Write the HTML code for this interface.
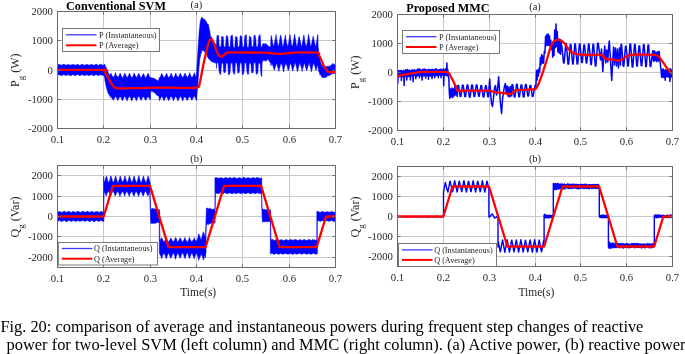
<!DOCTYPE html><html><head><meta charset="utf-8"><style>html,body{margin:0;padding:0;background:#fff;width:685px;height:354px;overflow:hidden}svg{display:block;filter:blur(0.45px)}</style></head><body><svg width="685" height="354" viewBox="0 0 685 354" style="font-family:Liberation Serif,serif">
<rect width="685" height="354" fill="#fff"/>
<path d="M103.50 11.5V128.5M150.50 11.5V128.5M196.50 11.5V128.5M242.50 11.5V128.5M289.50 11.5V128.5M57.5 99.50H335.5M57.5 70.50H335.5M57.5 40.50H335.5" stroke="#c8c8c8" stroke-width="1" fill="none"/>
<clipPath id="cTL"><rect x="57.5" y="11.5" width="278.00" height="117.00"/></clipPath>
<g clip-path="url(#cTL)">
<polygon points="57.4,64.9 57.7,65 58,64.9 58.3,64.4 58.6,64.4 58.9,64.3 59.2,64.5 59.5,64.4 59.8,64.7 60.1,64.3 60.4,65.1 60.7,65 61,65.3 61.3,65.4 61.6,65.1 61.9,65.1 62.2,65 62.5,64.6 62.8,64.5 63.1,64.6 63.4,64.2 63.7,64.1 64,64.5 64.3,64.4 64.6,64.2 64.9,64.6 65.2,64.8 65.5,64.9 65.8,65 66.1,65.3 66.4,65.3 66.7,64.9 67,64.6 67.3,64.7 67.6,64.6 67.9,64.4 68.2,64.5 68.5,64.6 68.8,64.4 69.1,64.4 69.4,64.7 69.7,64.9 70,65.2 70.3,64.9 70.6,65.3 70.9,65 71.2,64.7 71.5,64.9 71.8,64.8 72.1,64.4 72.4,64.7 72.7,64.6 73,64.5 73.3,64.5 73.6,64.7 73.9,64.3 74.2,64.9 74.5,65 74.8,64.8 75.1,65.4 75.4,65.2 75.7,65.3 76,64.8 76.3,64.7 76.6,64.7 76.9,64.3 77.2,64.5 77.5,64.4 77.8,64.5 78.1,64.4 78.4,64.8 78.7,64.8 79,64.8 79.3,65.1 79.6,65.5 79.9,65.7 80.2,64.9 80.5,65.2 80.8,64.9 81,64.6 81.3,64.3 81.6,64.7 81.9,64.2 82.2,64.5 82.5,64.7 82.8,64.2 83.1,64.6 83.4,64.5 83.7,65 84,65.4 84.3,65.7 84.6,64.9 84.9,65 85.2,65 85.5,65 85.8,64.7 86.1,64.3 86.4,64.5 86.7,64.4 87,64.4 87.3,64.3 87.6,64.6 87.9,64.8 88.2,64.8 88.5,65 88.8,65 89.1,65.3 89.4,65.4 89.7,64.9 90,64.5 90.3,64.9 90.6,64.6 90.9,64.9 91.2,64.4 91.5,64.3 91.8,64.2 92.1,64.8 92.4,65.1 92.7,64.6 93,64.8 93.3,65.3 93.6,65.2 93.9,65.2 94.2,65 94.5,64.9 94.8,64.9 95.1,64.6 95.4,64.7 95.7,64.3 96,64.5 96.3,64 96.6,64.2 96.9,64.7 97.2,64.6 97.5,65 97.8,65.1 98.1,65.5 98.4,65.5 98.7,65.4 99,64.9 99.3,64.7 99.6,64.5 99.9,64.4 100.2,64.2 100.5,64.3 100.8,64.4 101.1,64.5 101.4,64.5 101.7,64.3 102,64.8 102.3,65 102.6,65.4 102.9,65.5 103.2,65.1 103.5,64.9 103.8,65.3 104.1,64.9 104.4,64.9 104.4,75.6 104.1,75.3 103.8,75.2 103.5,75.8 103.2,75.5 102.9,75.6 102.6,75.2 102.3,75 102,75.3 101.7,75.1 101.4,75.1 101.1,74.5 100.8,75.3 100.5,74.7 100.2,74.6 99.9,75 99.6,75.1 99.3,75.2 99,75.1 98.7,75.4 98.4,75.8 98.1,75.2 97.8,75.5 97.5,75.2 97.2,75.3 96.9,75 96.6,75 96.3,74.6 96,74.6 95.7,75 95.4,74.8 95.1,74.9 94.8,75.3 94.5,75.4 94.2,75.5 93.9,75.7 93.6,75.5 93.3,75.6 93,75.4 92.7,75.3 92.4,75.3 92.1,75 91.8,74.7 91.5,74.2 91.2,74.5 90.9,74.9 90.6,74.8 90.3,75.2 90,75.5 89.7,75.2 89.4,75.5 89.1,75.6 88.8,75.2 88.5,75.7 88.2,75.2 87.9,75.3 87.6,75.3 87.3,75 87,74.6 86.7,74.7 86.4,75.1 86.1,75.1 85.8,75 85.5,75.4 85.2,75.5 84.9,75.6 84.6,75.6 84.3,75.4 84,75.8 83.7,75.6 83.4,75.2 83.1,75.1 82.8,74.9 82.5,74.5 82.2,74.4 81.9,74.7 81.6,74.9 81.3,74.9 81,75.3 80.8,75.3 80.5,75 80.2,75.4 79.9,75.7 79.6,75.5 79.3,75.8 79,75.5 78.7,75 78.4,74.7 78.1,74.6 77.8,74.5 77.5,74.3 77.2,74.8 76.9,74.5 76.6,75.1 76.3,75.2 76,75.3 75.7,75.6 75.4,75.4 75.1,75.7 74.8,75.8 74.5,75.5 74.2,75 73.9,75 73.6,75.1 73.3,74.6 73,74.7 72.7,74.6 72.4,74.9 72.1,75.1 71.8,75.4 71.5,75.4 71.2,75.5 70.9,75.7 70.6,75.6 70.3,75.2 70,75.5 69.7,75.4 69.4,74.9 69.1,75.4 68.8,74.5 68.5,74.7 68.2,74.3 67.9,74.8 67.6,75.2 67.3,74.9 67,75 66.7,75.3 66.4,75.5 66.1,75.4 65.8,75.5 65.5,75.3 65.2,75.2 64.9,75.4 64.6,74.8 64.3,75.1 64,74.8 63.7,74.6 63.4,74.6 63.1,74.8 62.8,74.9 62.5,75.2 62.2,75.4 61.9,75.5 61.6,75.6 61.3,75.6 61,75.4 60.7,75.4 60.4,75.2 60.1,75.2 59.8,74.7 59.5,74.9 59.2,74.7 58.9,74.7 58.6,74.9 58.3,75 58,75.2 57.7,75.1 57.4,75.8" fill="#00f" stroke="#00f" stroke-width="0.5" stroke-linejoin="round"/>
<polygon points="104.2,63.8 104.5,64.2 104.8,64.9 105.1,65.4 105.4,66.1 105.7,66.5 106,67 106.3,68 106.6,69.4 106.9,69.7 107.2,69.2 107.5,70.7 107.8,71.2 108.1,72.4 108.4,72.8 108.7,74.1 109,74.5 109.3,75.1 109.6,75.6 109.9,76.2 110.2,74.1 110.5,74.3 110.8,73.3 111.1,73.1 111.4,74.4 111.7,74.8 112,75.5 112.3,75.9 112.6,76.5 112.9,77 113.2,76.7 113.5,77.6 113.8,77.1 114.1,76.3 114.4,76.1 114.7,75.2 115,74.4 115.3,72.8 115.6,72.7 115.9,73.8 116.2,74.9 116.5,75.8 116.8,76.3 117.1,76.1 117.4,76.3 117.7,77.6 118,77.5 118.3,77.4 118.6,76.6 118.9,76.1 119.2,75 119.5,74.8 119.8,73.8 120.1,73.2 120.4,73.5 120.7,74.1 121,75 121.3,75.6 121.6,76.5 121.9,77 122.2,77.1 122.5,77.4 122.8,77.9 123.1,76.9 123.4,76.7 123.7,75.9 124,74.9 124.3,74.1 124.6,73.5 124.9,73.1 125.2,74 125.5,74.2 125.8,75.2 126.1,76 126.4,77.1 126.7,76.4 127,77.6 127.3,77.4 127.6,77.3 127.9,76.5 128.2,76.2 128.5,75.9 128.8,74.8 129.1,74 129.4,73.2 129.7,73.3 130,74.5 130.3,75 130.6,75.5 130.9,76.4 131.2,76.9 131.5,77.6 131.8,77.6 132.1,77.2 132.4,77.4 132.7,76.7 133,76.1 133.3,75.2 133.6,74.3 133.9,73.4 134.2,73 134.5,74.3 134.8,74.8 135.1,75 135.4,76.1 135.7,76.3 136,77.3 136.3,77.2 136.6,77.2 136.9,77.2 137.2,76.7 137.5,75.6 137.8,75.6 138.1,75.3 138.4,73.4 138.7,73.6 139,73.4 139.3,74.3 139.6,75.1 139.9,75.5 140.2,76.9 140.5,77.2 140.8,77.3 141.1,77.6 141.4,77 141.7,76.8 142,76.7 142.3,75.2 142.6,74.9 142.9,74.3 143.2,73.8 143.5,73.7 143.8,74 144.1,74.7 144.4,75.8 144.7,76.2 145,76.8 145.3,77.7 145.6,78.2 145.9,77.7 146.2,77.1 146.5,76.9 146.8,75.5 147.1,75.4 147.4,74.3 147.7,74.6 148,73.2 148.3,73.8 148.6,74.5 148.9,74.6 149.2,76.2 149.5,77.1 149.8,77 150.1,77.8 150.4,78 150.6,77.2 150.9,77.8 151.2,78 151.5,77.8 151.8,77.8 152.1,78.2 152.4,77.6 152.7,78.2 153,78.6 153.3,78 153.6,78.8 153.9,78.5 154.2,78.1 154.5,78.8 154.8,78.7 155.1,79.2 155.4,78.9 155.7,79.7 156,79.4 156.3,79.9 156.6,79.8 156.9,80 157.2,80.6 157.5,80.5 157.8,80.5 158.1,80.4 158.4,81.3 158.7,80.3 159,78.7 159.3,77.7 159.6,77.4 159.9,77.1 160.2,76.7 160.5,76.4 160.8,75.8 161.1,74.7 161.4,74.4 161.7,73.6 162,73.5 162.3,74.6 162.6,75 162.9,75.7 163.2,76.6 163.5,77 163.8,77.7 164.1,77.4 164.4,78 164.7,76.9 165,76.5 165.3,75.5 165.6,75.4 165.9,74.9 166.2,74 166.5,73.3 166.8,73.4 167.1,74.5 167.4,75.3 167.7,75.8 168,77 168.3,77.3 168.6,77.6 168.9,77.8 169.2,77 169.5,76.5 169.8,75.9 170.1,75.7 170.4,74.9 170.7,74.2 171,73.5 171.3,73.1 171.6,74.1 171.9,75.1 172.2,75.4 172.5,76.2 172.8,77.3 173.1,77.7 173.4,78 173.7,77.4 174,76.9 174.3,76.7 174.6,75.7 174.9,75.2 175.2,74.7 175.5,73.4 175.8,72.9 176.1,73.9 176.4,74.9 176.7,75.6 177,76.1 177.3,76.8 177.6,76.7 177.9,77.3 178.2,77.6 178.5,76.9 178.8,76.2 179.1,75.7 179.4,75.1 179.7,74.6 180,73.5 180.3,73.1 180.6,74 180.9,74.3 181.2,75.4 181.5,75.8 181.8,76 182.1,76.9 182.4,77.1 182.7,77.8 183,77 183.3,77.2 183.6,76.5 183.9,75 184.2,75.2 184.5,74.6 184.8,73.1 185.1,73.4 185.4,73.4 185.7,74.8 186,74.9 186.3,76.2 186.6,76.1 186.9,76.4 187.2,77.6 187.5,78.1 187.8,76.9 188.1,76.8 188.4,75.9 188.7,75.1 189,74.7 189.3,74.2 189.6,72.5 189.9,73.7 190.2,74.4 190.5,74.6 190.8,76.2 191.1,77 191.4,76.6 191.7,77.8 192,77.5 192.3,77.1 192.6,77.2 192.9,76.2 193.2,75.6 193.5,75.2 193.8,74.4 194.1,73.5 194.4,72.7 194.7,73.5 195,75 195.3,75.1 195.6,76.1 195.9,76.3 196.2,77.1 196.5,77.1 196.8,77.8 196.8,100.2 196.5,100.6 196.2,99.6 195.9,99.4 195.6,98.8 195.3,98.2 195,97.1 194.7,96.7 194.4,96.5 194.1,96.3 193.8,96.3 193.5,97 193.2,98.1 192.9,98.5 192.6,98.8 192.3,99.2 192,100.4 191.7,100.2 191.4,99.2 191.1,98.9 190.8,97.7 190.5,97.9 190.2,96.8 189.9,97.1 189.6,96.2 189.3,96.9 189,97.3 188.7,97.6 188.4,98.4 188.1,98.5 187.8,99.6 187.5,100.2 187.2,100.6 186.9,100.5 186.6,99.2 186.3,98.7 186,98.3 185.7,98.1 185.4,96.5 185.1,97.2 184.8,97 184.5,96.9 184.2,97.3 183.9,97.4 183.6,98.3 183.3,99.7 183,100 182.7,100.9 182.4,100.6 182.1,99.4 181.8,98.5 181.5,97.8 181.2,97.6 180.9,96.7 180.6,96.7 180.3,96.1 180,97.1 179.7,97.4 179.4,97.9 179.1,98.5 178.8,99 178.5,99.7 178.2,100.2 177.9,101.1 177.6,99.7 177.3,99.1 177,98.4 176.7,98 176.4,97.1 176.1,97.2 175.8,96.5 175.5,96.7 175.2,97.1 174.9,97.8 174.6,98.5 174.3,98.8 174,99.4 173.7,99.6 173.4,101.1 173.1,99.8 172.8,99.3 172.5,98.4 172.2,97.5 171.9,97.5 171.6,96.5 171.3,96.6 171,96.9 170.7,96.5 170.4,97.3 170.1,97.9 169.8,98.5 169.5,99.5 169.2,100 168.9,100.5 168.6,100.4 168.3,100.2 168,99.3 167.7,98.4 167.4,98.5 167.1,97.4 166.8,97 166.5,96.7 166.2,97 165.9,97.1 165.6,97.2 165.3,97.9 165,98.8 164.7,99.4 164.4,99.9 164.1,100.9 163.8,100.1 163.5,99.5 163.2,98.5 162.9,98.1 162.6,98.1 162.3,96.8 162,95.8 161.7,96.3 161.4,97.2 161.1,97.3 160.8,98 160.5,98.1 160.2,99.2 159.9,100 159.6,100.7 159.3,100.2 159,96.4 158.7,96.2 158.4,96 158.1,96.1 157.8,95.1 157.5,95.7 157.2,95.1 156.9,95.2 156.6,95.1 156.3,95 156,93.6 155.7,93.6 155.4,93 155.1,93.5 154.8,92.9 154.5,92.5 154.2,92.4 153.9,92.7 153.6,91.8 153.3,91.5 153,91.4 152.7,91.9 152.4,91.7 152.1,90.8 151.8,90.7 151.5,91.5 151.2,90 150.9,90.6 150.6,93.5 150.4,99.7 150.1,99.9 149.8,99.2 149.5,98.3 149.2,97.9 148.9,97.4 148.6,97.4 148.3,96.7 148,96.7 147.7,96.5 147.4,96.8 147.1,98.1 146.8,97.9 146.5,99.2 146.2,99.6 145.9,99.8 145.6,100.4 145.3,99.8 145,99.2 144.7,98.9 144.4,97.7 144.1,97.1 143.8,97.4 143.5,96 143.2,96.7 142.9,96.9 142.6,97.3 142.3,98 142,98.6 141.7,99.5 141.4,99.8 141.1,100.4 140.8,100 140.5,99.6 140.2,99 139.9,97.9 139.6,97.4 139.3,97 139,96.4 138.7,96.8 138.4,96.3 138.1,97 137.8,97.6 137.5,98.2 137.2,98.9 136.9,99.1 136.6,100.6 136.3,101.1 136,99.7 135.7,98.9 135.4,98.5 135.1,98.3 134.8,97 134.5,97.3 134.2,96.9 133.9,96.7 133.6,97.3 133.3,97.7 133,98.1 132.7,98.2 132.4,99.2 132.1,100.4 131.8,101.2 131.5,99.9 131.2,100 130.9,98.5 130.6,97.9 130.3,97.9 130,96.9 129.7,96.5 129.4,96.3 129.1,96.8 128.8,97.3 128.5,97.6 128.2,98.1 127.9,99.2 127.6,99.3 127.3,100.4 127,101 126.7,99.6 126.4,99.1 126.1,99.1 125.8,97.8 125.5,97.2 125.2,97.1 124.9,96.8 124.6,96.6 124.3,97.1 124,97.6 123.7,98.2 123.4,99.1 123.1,99.3 122.8,99.9 122.5,100.8 122.2,99.8 121.9,99.2 121.6,99.1 121.3,98.4 121,97.1 120.7,96.9 120.4,97.2 120.1,96.2 119.8,97.1 119.5,97.2 119.2,97.7 118.9,97.8 118.6,99.1 118.3,99.5 118,100.3 117.7,100.4 117.4,99.9 117.1,98.6 116.8,98.6 116.5,97.4 116.2,97.5 115.9,96.5 115.6,96.3 115.3,97.1 115,97.4 114.7,97.1 114.4,98.5 114.1,98.4 113.8,99.5 113.5,100.4 113.2,100 112.9,99.2 112.6,99.2 112.3,98.9 112,98.1 111.7,98.2 111.4,96.9 111.1,96.3 110.8,96 110.5,96.3 110.2,97.4 109.9,95.7 109.6,95.1 109.3,95.5 109,94.5 108.7,94 108.4,93.4 108.1,93.1 107.8,92.4 107.5,91.1 107.2,90.3 106.9,89 106.6,88.2 106.3,87.2 106,85.9 105.7,84.3 105.4,82.2 105.1,81.4 104.8,79.3 104.5,77.6 104.2,75.7" fill="#00f" stroke="#00f" stroke-width="0.5" stroke-linejoin="round"/>
<polygon points="196.4,75.3 196.7,71.2 197,65.6 197.3,60.1 197.6,55.9 197.9,50.5 198.2,45.4 198.5,41.7 198.8,37.5 199.1,32.6 199.4,29.1 199.7,26.9 200,23.6 200.3,21.6 200.6,19.9 200.9,19.5 201.2,18.6 201.5,17.5 201.8,17.1 202.1,17.8 202.4,17.7 202.7,17.7 203,18.9 203.3,19 203.6,18.7 203.9,19.8 204.2,19.2 204.5,19.8 204.8,19.2 205.1,20.4 205.4,20.4 205.7,20.7 206,20.6 206.3,22.9 206.6,22.1 206.9,22.9 207.2,24 207.5,23.9 207.8,24.6 208.1,23.9 208.4,25 208.7,25.8 209,27.8 209.3,29.1 209.6,29.9 209.9,31.5 210.2,33.7 210.5,36.4 210.8,36.8 211.1,37.4 211.4,36.8 211.7,37.1 212,38.7 212.3,39.4 212.6,39.9 212.9,41 213.2,41.3 213.5,41.4 213.8,42 214.1,42.9 214.4,43.2 214.7,43.6 215,45.1 215.3,44.2 215.6,44.7 215.9,44.5 216.2,45.2 216.5,45.9 216.8,46.3 216.8,63.1 216.5,62.4 216.2,64.2 215.9,62.8 215.6,63.2 215.3,62.8 215,62.6 214.7,62.4 214.4,62.5 214.1,61.9 213.8,61.2 213.5,62.9 213.2,61.1 212.9,61.8 212.6,62 212.3,62.1 212,62 211.7,61.6 211.4,61.9 211.1,61 210.8,61 210.5,59.4 210.2,60.1 209.9,60.1 209.6,59.3 209.3,59.4 209,59.1 208.7,59 208.4,58.3 208.1,58.1 207.8,57.5 207.5,56.8 207.2,56.1 206.9,54.5 206.6,54.8 206.3,54 206,52.9 205.7,52 205.4,51.7 205.1,51.7 204.8,52.3 204.5,51.9 204.2,51.4 203.9,49.9 203.6,50.1 203.3,50.8 203,50.2 202.7,50.9 202.4,50.2 202.1,49.3 201.8,50.2 201.5,52.9 201.2,52.6 200.9,54 200.6,54.7 200.3,56.8 200,58.3 199.7,59.2 199.4,64 199.1,66.6 198.8,70.2 198.5,75 198.2,79.9 197.9,85.2 197.6,86.9 197.3,90.3 197,93.2 196.7,95.3 196.4,96.9" fill="#00f" stroke="#00f" stroke-width="0.5" stroke-linejoin="round"/>
<polygon points="216.5,43.6 216.8,38.5 217.1,35.5 217.4,36 217.7,35.5 218,35.4 218.3,35.6 218.6,35.3 218.9,40.7 219.2,45.6 219.5,47.1 219.8,46.9 220.1,47.1 220.4,46.9 220.7,46.6 221,45.9 221.3,41.5 221.6,36.8 221.9,36.2 222.2,36.8 222.5,36.7 222.8,36.9 223.1,36.5 223.4,38.9 223.7,43.4 224,47.1 224.3,46.9 224.6,46.9 224.9,47.3 225.2,47.1 225.5,46.7 225.8,42.9 226.1,38.1 226.4,36.1 226.7,35.5 227,35.7 227.3,36 227.6,36 227.9,37 228.2,41.8 228.5,46.4 228.8,47.1 229.1,47.3 229.4,47 229.7,46.6 230,47.4 230.3,45.1 230.6,40.2 230.9,35.8 231.2,35.5 231.5,35.7 231.8,35.7 232.1,35.5 232.4,34.9 232.7,37.8 233,43.9 233.3,47.1 233.6,47.4 233.9,47.2 234.2,47.7 234.5,47.4 234.8,47.4 235.1,42.8 235.4,37.5 235.7,36.6 236,36.7 236.3,36.6 236.6,37.1 236.9,37 237.2,37.9 237.5,42.3 237.8,46.9 238.1,47.1 238.4,46.9 238.7,47.2 239,46.4 239.3,46.9 239.6,43.7 239.9,39.3 240.2,35.9 240.5,35.6 240.8,35.5 241.1,35.7 241.4,36.5 241.7,36.2 242,41.2 242.3,44.8 242.6,46.9 242.9,47 243.2,46.7 243.5,47.1 243.8,47.2 244.1,45.9 244.4,41.4 244.7,36.7 245,35.4 245.3,35.8 245.6,35.2 245.9,35.4 246.2,34.5 246.5,37.8 246.8,42.5 247.1,47.6 247.4,47.2 247.7,47.1 248,47.2 248.3,47.3 248.6,47.4 248.9,44.1 249.2,38.9 249.5,36 249.8,35.9 250.1,36.9 250.4,37.3 250.7,37.1 251,37 251.3,41 251.6,45.6 251.9,46.9 252.2,47.1 252.5,46.5 252.8,47.2 253.1,46.6 253.4,45.4 253.7,40.4 254,35.4 254.3,35 254.6,35 254.9,35.5 255.2,35.8 255.5,37.4 255.8,39.8 256.1,44 256.4,46.8 256.7,46.7 257,46.3 257.3,46.9 257.6,47.1 257.9,46.5 258.2,42.8 258.5,37.9 258.8,36.1 259.1,35.9 259.4,35.5 259.7,35 260,34.4 260.3,36.2 260.6,41.2 260.9,46.7 261.2,47.2 261.5,46.9 261.8,46.6 262.1,46.7 262.4,45.3 262.7,44.5 263,43.7 263.3,44.2 263.6,43.8 263.9,43.2 264.2,44 264.5,44.4 264.8,44.2 265.1,43.5 265.4,43.6 265.7,43.7 266,43.8 266.3,43.9 266.6,44 266.9,44.9 267.2,45.2 267.6,45 267.9,45.7 268.2,46.1 268.5,46.2 268.8,46.5 269.1,46.7 269.4,46.7 269.7,46.6 270,46.4 270.3,47.1 270.6,47.4 270.9,38.3 271.2,35.6 271.5,35.7 271.8,38.1 272.1,39.9 272.4,41.3 272.7,42.9 273,43.9 273.3,45.7 273.6,46.5 273.9,46.1 274.2,44.6 274.5,42.9 274.8,40.9 275.1,39.7 275.4,38.5 275.7,36.6 276,34.5 276.3,36.6 276.6,38.5 276.9,40.5 277.2,41.9 277.5,43.8 277.8,45.1 278.1,46.1 278.4,46.3 278.7,45.6 279,43.8 279.3,42.9 279.6,40.4 279.9,38.6 280.2,36.7 280.5,35.6 280.8,34.9 281.1,36.9 281.4,38.4 281.7,40.4 282,42.2 282.3,44.4 282.6,45.2 282.9,46.8 283.2,46.7 283.5,44.9 283.8,43.6 284.1,41.8 284.4,39.5 284.7,38.4 285,36.9 285.3,34.9 285.6,36.5 285.9,39 286.2,40.6 286.5,42.3 286.8,43.7 287.1,44.8 287.4,46.4 287.7,46.2 288,45.7 288.3,43.9 288.6,42.7 288.9,41.1 289.2,39 289.5,37.1 289.8,34.8 290.1,34.7 290.4,37.4 290.7,39.6 291,41.2 291.3,43.4 291.6,44.7 291.9,46 292.2,46.6 292.5,45.6 292.8,45 293.1,43.3 293.4,41.4 293.7,39.5 294,37.9 294.3,36 294.6,34.1 294.9,35.3 295.2,37.9 295.5,39 295.8,41.3 296.1,43.2 296.4,45.1 296.7,45.9 297,47.1 297.3,45.8 297.6,44.5 297.9,43.1 298.2,40.7 298.5,38.3 298.8,37.6 299.1,36.4 299.4,36.9 299.7,38.2 300,39.8 300.3,41.3 300.6,42.1 300.9,43.9 301.2,45.4 301.5,47.4 301.8,45.8 302.1,45.1 302.4,43.1 302.7,41 303,40.4 303.3,37.4 303.6,35.9 303.9,34.8 304.2,36.4 304.5,38.5 304.8,41.2 305.1,42.6 305.4,43.7 305.7,45 306,46.3 306.3,47 306.6,45.3 306.9,44.1 307.2,42.8 307.5,41 307.8,39.4 308.1,37.4 308.4,34.3 308.7,35.2 309,36.6 309.3,38.4 309.6,40.2 309.9,42 310.2,44 310.5,45.8 310.8,46.6 311.1,45.9 311.4,44.6 311.7,43.5 312,41.6 312.3,40 312.6,38.9 312.9,36.9 313.2,36.2 313.5,37.4 313.8,39.2 314.1,40.4 314.4,41.9 314.7,43.2 315,44.6 315.3,46.3 315.6,46.5 315.9,45.6 316.2,44.1 316.5,41.8 316.8,40.5 317.1,38.2 317.4,36.5 317.7,34.5 318,35.3 318,64.4 317.7,64.7 317.4,65.7 317.1,66.4 316.8,68.3 316.5,69.3 316.2,70.6 315.9,70.2 315.6,69 315.3,68 315,66.3 314.7,66.1 314.4,64.7 314.1,64 313.8,63.3 313.5,63.3 313.2,64.7 312.9,65.7 312.6,66.2 312.3,68.3 312,69.1 311.7,70.2 311.4,72 311.1,70.3 310.8,69.2 310.5,67.9 310.2,66.1 309.9,66.2 309.6,64.5 309.3,63.4 309,63 308.7,63.9 308.4,64.9 308.1,65.8 307.8,67.4 307.5,68.1 307.2,69.6 306.9,70.5 306.6,70.4 306.3,69.8 306,68.5 305.7,67.9 305.4,66.3 305.1,65.7 304.8,64.3 304.5,63.2 304.2,63.6 303.9,64.3 303.6,65.7 303.3,66.9 303,67.8 302.7,68.5 302.4,69.8 302.1,71.5 301.8,69.4 301.5,67.7 301.2,67.1 300.9,66.6 300.6,64.9 300.3,64.6 300,63.2 299.7,62.7 299.4,63.8 299.1,65.4 298.8,66 298.5,67.4 298.2,68.6 297.9,70.5 297.6,71.5 297.3,71.5 297,69.9 296.7,68.2 296.4,66.7 296.1,65.7 295.8,64.6 295.5,63.7 295.2,62.9 294.9,63.1 294.6,64.3 294.3,65.2 294,67 293.7,67.3 293.4,68.2 293.1,69.9 292.8,71.3 292.5,70.3 292.2,69.6 291.9,67.7 291.6,66.6 291.3,65.6 291,64.5 290.7,63.5 290.4,63.4 290.1,63.9 289.8,65.2 289.5,65.7 289.2,67.3 288.9,68.9 288.6,69.3 288.3,70.6 288,69.9 287.7,69.1 287.4,67.5 287.1,66.2 286.8,65.7 286.5,64.5 286.2,64.8 285.9,62.8 285.6,63.7 285.3,64.5 285,65.6 284.7,66.9 284.4,67.6 284.1,69.2 283.8,71.3 283.5,72 283.2,70.2 282.9,69.2 282.6,67.4 282.3,66.1 282,65 281.7,64.4 281.4,63.2 281.1,63.5 280.8,64.1 280.5,64.8 280.2,66.1 279.9,67.4 279.6,67.8 279.3,68.8 279,71.4 278.7,70.9 278.4,70.2 278.1,69 277.8,67.5 277.5,66.4 277.2,65.2 276.9,64 276.6,63.4 276.3,63.7 276,64.5 275.7,66.1 275.4,66.9 275.1,67.8 274.8,68.5 274.5,70.2 274.2,70 273.9,69.3 273.6,68.3 273.3,67.1 273,66.2 272.7,65.4 272.4,64.9 272.1,63.2 271.8,62.9 271.5,63.7 271.2,64.9 270.9,65.8 270.6,63.3 270.3,63 270,62 269.7,61.1 269.4,61.4 269.1,61 268.8,59.7 268.5,60.3 268.2,58.9 267.9,59.3 267.6,59 267.2,59.9 266.9,59.7 266.6,60.5 266.3,60.8 266,61.4 265.7,60.8 265.4,60.8 265.1,60.8 264.8,60.9 264.5,60.6 264.2,60.6 263.9,60.9 263.6,60.5 263.3,60.1 263,60.5 262.7,60.6 262.4,62 262.1,63.2 261.8,75.8 261.5,76.7 261.2,75.6 260.9,74.2 260.6,69.8 260.3,64.9 260,62.9 259.7,63.1 259.4,63.1 259.1,62.9 258.8,63.5 258.5,63 258.2,67.6 257.9,72.1 257.6,73.3 257.3,73.7 257,74.1 256.7,74.2 256.4,74.4 256.1,73.1 255.8,67.8 255.5,63.1 255.2,62.7 254.9,62.8 254.6,62.7 254.3,62.5 254,63 253.7,65.1 253.4,69.6 253.1,73 252.8,72.7 252.5,72.5 252.2,72.3 251.9,72.8 251.6,73.1 251.3,69.1 251,64.6 250.7,63.3 250.4,63.1 250.1,63.3 249.8,63.2 249.5,63.8 249.2,63.8 248.9,68.2 248.6,73.5 248.3,74.2 248,74.5 247.7,73.9 247.4,73.8 247.1,72.8 246.8,70.2 246.5,66.3 246.2,62.8 245.9,62.9 245.6,62.9 245.3,63 245,63.2 244.7,63 244.4,66.8 244.1,70.7 243.8,73.4 243.5,73.9 243.2,74.2 242.9,74.6 242.6,75 242.3,74.2 242,69.2 241.7,64 241.4,62.9 241.1,62.9 240.8,63.3 240.5,63.1 240.2,62.6 239.9,64.2 239.6,68.4 239.3,72.4 239,72.7 238.7,72.4 238.4,72.8 238.1,72.7 237.8,73.2 237.5,70.6 237.2,66.2 236.9,63.1 236.6,63.2 236.3,62.7 236,62.7 235.7,62.7 235.4,63.4 235.1,67.8 234.8,72.5 234.5,74.2 234.2,74.5 233.9,73.4 233.6,73.5 233.3,72.6 233,71.8 232.7,67 232.4,63.5 232.1,63.3 231.8,63.3 231.5,63.2 231.2,62.7 230.9,63.1 230.6,65.5 230.3,69.5 230,73.3 229.7,73.4 229.4,73.9 229.1,74.8 228.8,75 228.5,74.8 228.2,70.9 227.9,65.2 227.6,63.2 227.3,63 227,63.1 226.7,63.4 226.4,62.7 226.1,63.4 225.8,67.9 225.5,71.8 225.2,72.3 224.9,72.5 224.6,72 224.3,73 224,72.2 223.7,71.9 223.4,67.9 223.1,62.9 222.8,63.1 222.5,62.7 222.2,63.5 221.9,63.2 221.6,63.4 221.3,66.8 221,71.3 220.7,74.8 220.4,73.8 220.1,73.7 219.8,73.6 219.5,73.2 219.2,72.4 218.9,68.9 218.6,64.6 218.3,62.9 218,62.6 217.7,62.8 217.4,62.4 217.1,62.6 216.8,64.1 216.5,68.5" fill="#00f" stroke="#00f" stroke-width="0.5" stroke-linejoin="round"/>
<polygon points="317.7,44.4 318,47.8 318.3,48.7 318.6,52 318.9,54.1 319.2,56 319.5,56.8 319.8,57.5 320.1,59.1 320.4,61.8 320.7,62.6 321,63.4 321.3,64.8 321.6,64.5 321.9,64.9 322.2,65.1 322.5,66.8 322.8,67.6 323.1,66.5 323.4,67.1 323.7,67.4 324,68 324.3,65.8 324.6,67 324.9,67.3 325.2,66.2 325.5,67.2 325.8,67.1 326.1,67.3 326.4,66.6 326.6,67 326.9,66.4 327.2,66.9 327.5,66.6 327.8,66.3 328.1,65.7 328.4,67.2 328.7,66.8 329,66.6 329.3,65.8 329.6,65.9 329.9,66.8 330.2,66.2 330.5,65.2 330.8,65.4 331.1,65.3 331.4,64.9 331.7,64.3 332,65.2 332.3,64.7 332.6,64.1 332.9,63.2 333.2,63.8 333.5,64.2 333.8,64.7 334.1,64.3 334.4,65.1 334.7,64.8 335,64.5 335.3,63.6 335.3,72.8 335,73.3 334.7,73 334.4,73.6 334.1,73.6 333.8,73.1 333.5,73.7 333.2,73.2 332.9,72.7 332.6,73.6 332.3,73.9 332,73.9 331.7,73.3 331.4,74.2 331.1,74.7 330.8,74.3 330.5,74.9 330.2,75 329.9,74.9 329.6,75.7 329.3,75.3 329,74.8 328.7,75.8 328.4,75.9 328.1,75.2 327.8,76.1 327.5,75.9 327.2,75.7 326.9,76.5 326.6,76.3 326.4,75.9 326.1,77.7 325.8,77.1 325.5,76.3 325.2,77.4 324.9,77.9 324.6,77.5 324.3,77.8 324,77.3 323.7,77.7 323.4,77.3 323.1,77.2 322.8,77.8 322.5,77.4 322.2,77.3 321.9,77.3 321.6,76.5 321.3,76.5 321,75.2 320.7,75.2 320.4,74.6 320.1,74.3 319.8,74.7 319.5,72.4 319.2,72.3 318.9,72.2 318.6,70.3 318.3,68.6 318,66.6 317.7,65.4" fill="#00f" stroke="#00f" stroke-width="0.5" stroke-linejoin="round"/>
<polyline points="57.4,69.9 64.2,69.9 74.3,69.9 85.5,69.8 95.6,69.8 102.6,69.9 105.7,70 106.4,70 105.7,70.1 104.7,70.4 104.5,70.9 105,71.7 105.5,72.7 106.1,73.9 106.8,75.2 107.5,76.5 108.3,78 109.2,79.8 110.2,81.5 111.1,83.2 112,84.5 112.7,85.5 113.4,86.3 114.1,86.9 114.8,87.4 115.5,87.8 115.9,88.1 116,88.3 116.3,88.4 117.5,88.4 120,88.4 124.7,88.4 131.1,88.2 138.2,88.1 144.9,87.9 150,87.8 153.1,87.7 155,87.7 156.2,87.6 157.7,87.6 160,87.6 163.4,87.6 167.4,87.7 171.7,87.7 176,87.8 180,87.8 183.8,87.8 187.7,87.9 191.4,88 194.6,87.9 197,87.5 198.5,87 199.1,86.4 199.3,85.6 199.4,84.4 199.8,82.7 200.4,80.2 201,77.1 201.6,73.7 202.3,70.2 202.9,67 203.5,64 204.2,61 204.8,58.1 205.5,55.4 206,53 206.5,50.9 206.9,49 207.3,47.3 207.6,45.8 208,44.5 208.3,43.4 208.7,42.4 209,41.7 209.2,41 209.5,40.5 209.7,40.1 210,39.7 210.2,39.5 210.4,39.4 210.6,39.3 210.9,39.2 211.1,39.2 211.4,39.3 211.7,39.5 212,39.8 212.3,40.3 212.7,40.8 213.1,41.5 213.5,42.4 214,43.5 214.5,45 215.1,46.7 215.7,48.6 216.3,50.5 217,52 217.7,53.3 218.6,54.5 219.4,55.6 220.2,56.4 221,56.8 221.7,56.8 222.4,56.4 223.1,55.7 223.8,55.1 224.5,54.5 225.1,54.1 225.5,53.6 226,53.1 226.8,52.8 228,52.5 229.7,52.4 231.8,52.3 234.2,52.3 237,52.4 240,52.4 243.7,52.4 248.1,52.5 252.6,52.5 256.8,52.6 260,52.6 262.1,52.6 263.4,52.6 264.2,52.6 265,52.6 266,52.7 267.3,52.8 268.7,53 270.2,53.2 271.6,53.4 273,53.5 274.4,53.6 275.8,53.7 277.2,53.8 278.6,53.9 280,53.9 281.4,53.8 282.8,53.7 284.1,53.6 285.5,53.4 287,53.3 288.3,53.2 289.5,53 290.8,52.8 292.5,52.7 295,52.6 298.7,52.5 303.5,52.4 308.6,52.3 313.2,52.4 316.5,52.6 318.3,53 319,53.4 319.1,54.1 319.1,54.9 319.5,56 320.2,57.5 321,59.3 321.8,61.3 322.7,63.3 323.5,65 324.3,66.6 325.1,68.1 326,69.5 326.9,70.7 328,71.6 329.4,72.1 331.1,72.2 332.8,72.2 334.3,72 335.3,72" fill="none" stroke="#f00" stroke-width="2.3" stroke-linejoin="round"/>
</g>
<path d="M57.50 128.5v-3.3M57.50 11.5v3.3M103.50 128.5v-3.3M103.50 11.5v3.3M150.50 128.5v-3.3M150.50 11.5v3.3M196.50 128.5v-3.3M196.50 11.5v3.3M242.50 128.5v-3.3M242.50 11.5v3.3M289.50 128.5v-3.3M289.50 11.5v3.3M335.50 128.5v-3.3M335.50 11.5v3.3M57.5 128.50h3.3M335.5 128.50h-3.3M57.5 99.50h3.3M335.5 99.50h-3.3M57.5 70.50h3.3M335.5 70.50h-3.3M57.5 40.50h3.3M335.5 40.50h-3.3M57.5 11.50h3.3M335.5 11.50h-3.3" stroke="#6a6a6a" stroke-width="0.9" fill="none"/>
<rect x="57.5" y="11.5" width="278.00" height="117.00" fill="none" stroke="#6a6a6a" stroke-width="1"/>
<g font-size="10.7" fill="#262626"><text x="57.5" y="142.6" text-anchor="middle">0.1</text><text x="103.5" y="142.6" text-anchor="middle">0.2</text><text x="150.5" y="142.6" text-anchor="middle">0.3</text><text x="196.5" y="142.6" text-anchor="middle">0.4</text><text x="242.5" y="142.6" text-anchor="middle">0.5</text><text x="289.5" y="142.6" text-anchor="middle">0.6</text><text x="335.5" y="142.6" text-anchor="middle">0.7</text><text x="52.9" y="131.9" text-anchor="end">-2000</text><text x="52.9" y="102.9" text-anchor="end">-1000</text><text x="52.9" y="73.9" text-anchor="end">0</text><text x="52.9" y="43.9" text-anchor="end">1000</text><text x="52.9" y="14.9" text-anchor="end">2000</text></g>
<path d="M443.50 14.5V130.5M489.50 14.5V130.5M535.50 14.5V130.5M580.50 14.5V130.5M626.50 14.5V130.5M397.5 101.50H672.5M397.5 72.50H672.5M397.5 43.50H672.5" stroke="#c8c8c8" stroke-width="1" fill="none"/>
<clipPath id="cTR"><rect x="397.5" y="14.5" width="275.00" height="116.00"/></clipPath>
<g clip-path="url(#cTR)">
<polyline points="397.4,71.3 397.8,83.4 398.3,70.5 398.7,76.4 399.2,70.7 399.6,76.6 400.1,70.9 400.5,75.8 401,70.4 401.4,80.5 401.9,70.8 402.3,76.3 402.8,71.8 403.2,76.7 403.7,70.5 404.1,85.5 404.6,71.1 405,76.3 405.5,69.7 405.9,76.2 406.4,70.5 406.8,80 407.3,69.6 407.7,76.7 408.2,70.3 408.6,76.4 409.1,70.2 409.5,76 410,70.8 410.4,80 410.9,70.7 411.3,75.8 411.8,70 412.2,75.7 412.7,70 413.1,81.8 413.6,70.8 414,75.2 414.5,69.4 414.9,75.7 415.4,70.8 415.8,78.7 416.3,70.6 416.7,76.2 417.2,69.7 417.6,75.7 418.1,68.8 418.5,75.3 419,70.2 419.4,77.8 419.9,69 420.3,74.9 420.8,70 421.2,76 421.7,71 422.1,80.1 422.6,69.2 423,74.4 423.5,69.9 423.9,75.9 424.4,69.1 424.8,75.2 425.3,69.6 425.7,77.9 426.2,69.7 426.6,75.6 427.1,70.2 427.5,75.4 428,70.1 428.4,79.2 428.9,69.2 429.3,74.8 429.8,69.9 430.2,76.1 430.7,69.7 431.1,75.7 431.6,69.5 432,78.6 432.5,69.3 432.9,75.5 433.4,69.8 433.8,75.4 434.3,70.2 434.7,77.6 435.2,69.3 435.6,75.5 436.1,68.8 436.5,75.6 437,70.8 437.4,75.3 437.9,69.7 438.3,77.6 438.8,69.9 439.2,74.9 439.7,69.8 440.1,74.9 440.6,69.3 441,77.7 441.5,69.5 441.9,74.4 442.4,70.5 442.8,75.3 443.3,68.8 443.7,85.8 444.2,69.6 444.6,75.4 445.1,70 445.5,75 446,68.4 446.4,75.4 446.9,62.9 447.3,75.9 447.8,69.5 448.2,75.4 448.8,78 449.3,92 449.8,98.5 450.5,89 451.2,97 452,88 452.7,97.5 453.4,89 454.1,96 454.9,84.5 455.6,95 456.4,88 457.2,96.5 457.8,85.4 458.6,85.4 460.1,96.3 460.9,96.3 462.4,85.2 463.2,85.2 464.8,96.6 465.5,96.6 467.1,84.9 467.8,84.9 469.4,97.1 470.1,97.1 471.7,84.9 472.4,84.9 474,96.5 474.7,96.5 476.3,85.1 477,85.1 478.6,96.2 479.3,96.2 480.9,85.5 481.6,85.5 483.2,96.9 483.9,96.9 485.5,85.8 486.2,85.8 487.8,96.7 488.5,96.7 489,88 489.7,79 490.5,92 491.5,104 492.5,106.5 493.5,98 494.5,88 495.5,85.5 496.5,95 497.5,90 498.6,76.8 499.5,90 500.5,104 501.6,113.5 502.5,100 503.5,92 504.5,86 505.4,83.6 506.3,94 507.2,86 508.1,96.5 509,87 509.9,97 510.8,86.5 511.7,96 512,84.7 512.8,84.7 514.3,97 515,97 516.5,84.3 517.2,84.3 518.8,96.7 519.5,96.7 521,85.1 521.8,85.1 523.3,96.9 524,96.9 525.5,84.4 526.2,84.4 527.8,96 528.5,96 530,85.5 530.8,85.5 532.3,96.4 533,96.4 535.2,85.2 535.9,86.4 536.5,70.6 537.1,80 537.8,70.1 538.4,76.1 539.1,68.2 539.7,72.3 540.4,57.5 541,64.8 541.7,54.4 542.3,63.1 543,56.2 543.6,63.2 544.3,51.2 544.9,53.1 545.6,36.3 546.2,45.7 546.9,34.5 547.5,45 548.2,34 548.8,45.4 549.5,35.9 550.1,46 550.8,40.3 551.4,49.3 552.1,43.8 552.7,57.3 553.4,41.2 554,55.4 554.7,30 555.3,47.7 556,24 556.6,46.5 557.3,31.6 557.9,52 558.6,39 559.2,52.9 559.9,41.5 560.5,54.3 561.2,42.3 561.2,45.3 561.8,45.3 563.5,63 564.1,63 565.8,43.4 566.3,43.4 568,64.1 568.6,64.1 570.3,44.4 570.9,44.4 572.6,63.9 573.2,63.9 574.8,44 575.4,44 577.1,63.9 577.7,63.9 579.4,43.9 580,43.9 581.7,62.5 582.3,62.5 583.9,44.9 584.5,44.9 586.2,63 586.8,63 588.5,44.1 589.1,44.1 590.8,64.4 591.4,64.4 593,44.3 593.6,44.3 595.3,66 595.9,66 597.6,43.2 598.2,43.2 600.5,60 601.5,49 602.8,71.6 603.8,55 604.8,46 605.8,63 606.8,50 607.8,62 608.6,47 609.3,40.9 610.2,55 611.7,80.5 612.7,62 613.6,47 614.5,65 615.5,48 616.5,66 617.5,49 618.5,68 619.5,48 620.5,65 621,44.6 621.6,44.6 623.2,66.3 623.8,66.3 625.5,46.3 626.1,46.3 627.8,66 628.3,66 630,44.1 630.6,44.1 632.2,67.1 632.8,67.1 634.5,44.5 635.1,44.5 636.8,66.1 637.3,66.1 639,45.9 639.6,45.9 641.2,65.7 641.8,65.7 643.5,44.8 644.1,44.8 645.8,66.6 646.3,66.6 648,45 648.6,45 650.2,66.4 650.8,66.4 652.8,50.8 653.6,61.4 654.4,50.8 655.2,60.7 656,52.2 656.8,61.7 657.6,51.8 658.4,61 659.2,51.3 660,61.4 661,69.2 661.6,77.3 662.2,69.6 662.8,76.9 663.4,69.1 664,77.6 664.6,70.5 665.2,80.2 665.8,69.5 666.4,76.7 667,70.7 667.6,76.8 668.2,70.2 668.8,77.1 669.4,69.3 670,81.5 670.6,68.8 671.2,77.1 671.8,69.9 672.4,76 673,70.2" fill="none" stroke="#00f" stroke-width="1.5" stroke-linejoin="round"/>
<polyline points="397.4,76 398.4,75.8 399.8,75.5 401.4,75.2 403.2,74.8 405,74.5 406.9,74.2 408.9,73.8 411,73.4 413.1,73.1 415,72.8 416.5,72.6 417.7,72.3 419,72.1 420.6,72 423,71.9 426.6,71.8 431.1,71.8 435.9,71.8 440.4,71.9 443.7,72 445.7,72.1 447,72.2 447.6,72.3 448.1,72.6 448.7,73 449.3,73.6 449.8,74.4 450.2,75.3 450.6,76.2 451,77 451.4,77.7 451.8,78.3 452.1,78.9 452.5,79.6 453,80.5 453.6,81.7 454.2,83 454.8,84.5 455.5,85.8 456,87 456.3,87.9 456.3,88.8 456.4,89.5 456.8,90.1 457.8,90.5 459.5,90.8 461.6,90.8 464.1,90.8 466.9,90.7 470,90.7 473.7,90.7 478.1,90.6 482.6,90.6 486.6,90.6 489.5,90.6 491,90.7 491.6,90.9 491.6,91.1 491.6,91.3 492,91.5 492.8,91.7 493.8,91.9 494.8,92.1 495.9,92.3 497,92.5 498.1,92.6 499.3,92.7 500.6,92.8 501.8,92.9 503,93 504.2,93.2 505.5,93.4 506.8,93.7 508,93.9 509,94 509.8,94 510.4,94 510.9,94 511.4,93.8 512,93.5 512.5,93 512.9,92.4 513.3,91.7 514,91 515,90.5 516.6,90.2 518.6,90 520.8,90 523,89.9 525,89.8 526.9,89.7 528.8,89.6 530.6,89.5 532.2,89.4 533.5,89.3 534.4,89.3 534.9,89.3 535.2,89.3 535.5,89.1 536,88.5 536.6,87.7 537.2,86.7 537.9,85.4 538.6,83.7 539.5,81.5 540.6,78.6 541.8,75.2 543.1,71.4 544.3,67.6 545.5,64 546.6,60.5 547.6,57 548.6,53.6 549.5,50.5 550.3,48 551,46.1 551.6,44.7 552.2,43.7 552.8,42.8 553.5,42 554.3,41.3 555.2,40.7 556,40.2 556.9,39.9 557.7,39.7 558.4,39.6 559.1,39.7 559.7,39.8 560.3,40.1 561,40.5 561.7,41 562.5,41.6 563.3,42.3 564.2,43.1 565,44 565.9,45.2 566.8,46.5 567.7,48 568.7,49.3 569.6,50.4 570.5,51.2 571.3,51.9 572.2,52.4 573.1,52.9 574,53.3 574.9,53.7 575.9,53.9 576.9,54.2 578.1,54.3 579.5,54.5 581.3,54.7 583.3,54.8 585.5,54.9 587.8,55 590,55 592.2,54.9 594.6,54.8 596.9,54.6 599,54.6 600.8,54.8 602.1,55.3 603.1,56.1 603.9,57 604.7,57.9 605.7,58.5 606.8,58.9 608.1,59.1 609.3,59.3 610.6,59.4 612,59.6 613.5,59.9 615.1,60.2 616.7,60.4 618.2,60.6 619.6,60.5 620.8,60.1 621.9,59.6 622.9,58.9 623.9,58.1 625,57.5 626,56.9 626.9,56.3 628,55.7 629.4,55.2 631.5,54.8 634.6,54.6 638.6,54.5 642.8,54.6 646.8,54.7 650,54.8 652.3,54.9 654,55 655.4,55.2 656.6,55.5 657.7,56 658.8,56.7 659.6,57.6 660.4,58.7 661.1,59.8 662,61 663,62.3 664,63.7 665,65.2 666,66.7 667,68 668,69.3 669,70.5 670,71.7 670.8,72.7 671.5,73.4 672,73.8 672.2,73.9 672.4,73.8 672.5,73.7 672.6,73.6" fill="none" stroke="#f00" stroke-width="2.3" stroke-linejoin="round"/>
</g>
<path d="M397.50 130.5v-3.3M397.50 14.5v3.3M443.50 130.5v-3.3M443.50 14.5v3.3M489.50 130.5v-3.3M489.50 14.5v3.3M535.50 130.5v-3.3M535.50 14.5v3.3M580.50 130.5v-3.3M580.50 14.5v3.3M626.50 130.5v-3.3M626.50 14.5v3.3M672.50 130.5v-3.3M672.50 14.5v3.3M397.5 130.50h3.3M672.5 130.50h-3.3M397.5 101.50h3.3M672.5 101.50h-3.3M397.5 72.50h3.3M672.5 72.50h-3.3M397.5 43.50h3.3M672.5 43.50h-3.3M397.5 14.50h3.3M672.5 14.50h-3.3" stroke="#6a6a6a" stroke-width="0.9" fill="none"/>
<rect x="397.5" y="14.5" width="275.00" height="116.00" fill="none" stroke="#6a6a6a" stroke-width="1"/>
<g font-size="10.7" fill="#262626"><text x="397.5" y="144.6" text-anchor="middle">0.1</text><text x="443.5" y="144.6" text-anchor="middle">0.2</text><text x="489.5" y="144.6" text-anchor="middle">0.3</text><text x="535.5" y="144.6" text-anchor="middle">0.4</text><text x="580.5" y="144.6" text-anchor="middle">0.5</text><text x="626.5" y="144.6" text-anchor="middle">0.6</text><text x="672.5" y="144.6" text-anchor="middle">0.7</text><text x="392.9" y="133.9" text-anchor="end">-2000</text><text x="392.9" y="104.9" text-anchor="end">-1000</text><text x="392.9" y="75.9" text-anchor="end">0</text><text x="392.9" y="46.9" text-anchor="end">1000</text><text x="392.9" y="17.9" text-anchor="end">2000</text></g>
<path d="M103.50 165.5V267.5M150.50 165.5V267.5M196.50 165.5V267.5M242.50 165.5V267.5M289.50 165.5V267.5M57.5 257.50H335.5M57.5 236.50H335.5M57.5 216.50H335.5M57.5 196.50H335.5M57.5 175.50H335.5" stroke="#c8c8c8" stroke-width="1" fill="none"/>
<clipPath id="cBL"><rect x="57.5" y="165.5" width="278.00" height="102.00"/></clipPath>
<g clip-path="url(#cBL)">
<polygon points="57.4,212.5 57.7,212.2 58,211.8 58.3,211.9 58.6,211.8 58.9,211.5 59.2,211.8 59.5,211.6 59.8,211.6 60.1,211.8 60.4,211.5 60.7,211.7 61,212.1 61.3,212.3 61.6,212.7 61.9,212.8 62.2,212.3 62.5,212.1 62.8,211.8 63.1,211.6 63.4,211.5 63.7,211.6 64,211.3 64.3,211.3 64.6,211.5 64.9,211.5 65.2,211.7 65.5,211.4 65.8,212.2 66.1,212.3 66.4,212.6 66.7,212.5 67,211.8 67.3,212.4 67.6,211.8 67.9,211.6 68.2,211.1 68.5,211.6 68.8,211.5 69.1,211.4 69.4,211.6 69.7,211.9 70,211.8 70.3,211.8 70.6,212.5 70.9,212.5 71.2,212.5 71.5,212.7 71.8,212.1 72.1,211.8 72.4,211.7 72.7,211.5 73,211.5 73.3,211.5 73.6,211.3 73.9,211.4 74.2,211.7 74.5,211.8 74.8,212.1 75.1,212.3 75.4,212.4 75.7,212.7 76,212.3 76.3,212.1 76.6,212.1 76.9,211.4 77.2,211.7 77.5,212.1 77.8,211.1 78.1,211.7 78.4,211.1 78.7,211.6 79,212 79.3,212.1 79.6,211.9 79.9,212 80.2,212.2 80.5,212.6 80.8,212.2 81.1,212 81.4,211.9 81.7,211.7 82,211.6 82.3,211.5 82.6,211.1 82.9,211.7 83.2,210.9 83.5,211.9 83.8,211.6 84.1,211.9 84.4,212.1 84.7,212.3 85,212.6 85.3,212.3 85.6,211.9 85.9,212.1 86.2,211.6 86.5,211.8 86.8,211.4 87.1,211.3 87.4,211.5 87.7,211.6 88,211.4 88.3,211.6 88.6,212.1 88.9,211.9 89.2,212.1 89.5,212.6 89.8,212.2 90.1,211.7 90.4,211.7 90.7,211.9 91,211.8 91.3,211.6 91.6,211.5 91.9,211.2 92.2,211.6 92.5,211.7 92.8,211.5 93.1,212 93.4,211.9 93.7,212.2 94,212.5 94.3,212.2 94.6,212.6 94.9,211.9 95.2,211.9 95.5,211.6 95.8,211.6 96.1,211.5 96.4,211.4 96.7,211.7 97,211.5 97.3,211.5 97.6,211.1 97.9,211.8 98.2,212 98.5,212.1 98.8,212.4 99.1,212.5 99.4,212.4 99.7,212.3 100,212 100.3,211.5 100.6,211.5 100.9,211.2 101.2,211.6 101.5,211.5 101.8,211.4 102.1,211.6 102.4,211.8 102.7,211.9 103,212.5 103.3,213.1 103.6,212.7 103.9,212.5 103.9,221.4 103.6,221.4 103.3,221.3 103,221.2 102.7,221 102.4,221.4 102.1,221.2 101.8,220.5 101.5,220.7 101.2,220.3 100.9,220.6 100.6,220.6 100.3,220.3 100,221.1 99.7,220.9 99.4,221.4 99.1,221.1 98.8,221.5 98.5,221.3 98.2,221.4 97.9,221.1 97.6,221.2 97.3,220.6 97,220.6 96.7,220.6 96.4,220.1 96.1,220.7 95.8,220.9 95.5,220.9 95.2,221.1 94.9,221.4 94.6,221.5 94.3,221.9 94,221.3 93.7,221.2 93.4,221.5 93.1,221.5 92.8,220.8 92.5,220.9 92.2,220.2 91.9,220.3 91.6,220.4 91.3,220.6 91,220.8 90.7,221.1 90.4,221.3 90.1,221.2 89.8,221.5 89.5,221.4 89.2,221.7 88.9,221.3 88.6,221.2 88.3,220.7 88,221 87.7,220.6 87.4,220.4 87.1,220.3 86.8,220.4 86.5,220.7 86.2,220.8 85.9,220.9 85.6,221.3 85.3,221.4 85,221.8 84.7,221.3 84.4,221.3 84.1,221 83.8,220.6 83.5,220.9 83.2,220.8 82.9,220.7 82.6,220.1 82.3,220.3 82,221 81.7,221 81.4,221 81.1,221.1 80.8,221.1 80.5,221.2 80.2,221.1 79.9,221.4 79.6,221.4 79.3,220.9 79,221 78.7,220.4 78.4,220.2 78.1,220.4 77.8,220.6 77.5,220.8 77.2,221 76.9,221 76.6,221.3 76.3,221.2 76,221.6 75.7,221.1 75.4,221.3 75.1,221.5 74.8,220.9 74.5,221.2 74.2,220.8 73.9,220.7 73.6,220 73.3,220.3 73,220.6 72.7,220.8 72.4,220.8 72.1,221.2 71.8,221.6 71.5,221.2 71.2,221.1 70.9,221.2 70.6,221.5 70.3,221.1 70,220.8 69.7,220.8 69.4,220.6 69.1,220.8 68.8,220.1 68.5,220.2 68.2,220.9 67.9,220.9 67.6,221 67.3,221.7 67,221.8 66.7,221.3 66.4,221.3 66.1,221.5 65.8,221.8 65.5,220.9 65.2,221 64.9,220.7 64.6,220.4 64.3,220.1 64,220.5 63.7,220.6 63.4,220.5 63.1,220.7 62.8,221.2 62.5,220.8 62.2,221.6 61.9,221.5 61.6,221.7 61.3,221.2 61,221 60.7,221.4 60.4,220.9 60.1,220.4 59.8,220.6 59.5,220.2 59.2,220.6 58.9,220.6 58.6,221 58.3,221 58,221.7 57.7,221.3 57.4,221.4" fill="#00f" stroke="#00f" stroke-width="0.5" stroke-linejoin="round"/>
<polygon points="103.5,176.5 103.8,176.5 104.1,182.3 104.4,181.5 104.7,181.4 105,180.2 105.3,179.7 105.6,178.4 105.9,177 106.2,176.3 106.5,176.5 106.8,177.3 107.1,178.1 107.4,179.5 107.7,180.7 108,181.3 108.3,182.6 108.6,182.6 108.9,182.2 109.2,181.7 109.5,180.5 109.8,179.8 110.1,178.6 110.4,177 110.7,176.1 111,175.9 111.3,176.7 111.6,178 111.9,178.6 112.2,179.9 112.5,181.2 112.8,181.7 113.1,182.1 113.4,182.9 113.7,181.9 114,181.1 114.3,180.7 114.6,178.9 114.9,178.5 115.2,176.9 115.5,175.8 115.8,176 116.1,177.4 116.4,178.6 116.7,179.6 117,180.6 117.3,181.7 117.6,182.5 117.9,182.7 118.2,182.4 118.5,181.5 118.8,180.5 119.1,180.1 119.4,178.9 119.7,178.1 120,176.1 120.3,176.4 120.6,176.4 120.9,177.9 121.2,179.3 121.5,179.6 121.8,180.7 122.1,181 122.4,181.8 122.7,181.8 123,182 123.3,181.3 123.6,180.3 123.9,179.8 124.2,178.8 124.5,177.3 124.8,176 125.1,176.1 125.4,177.2 125.7,178.8 126,179.6 126.3,180.3 126.6,181.2 126.8,182.1 127.1,182.3 127.4,182.3 127.7,181.6 128,181.3 128.3,180.3 128.6,178.6 128.9,177.9 129.2,177 129.5,175.4 129.8,177 130.1,178 130.4,179.1 130.7,179.9 131,180.9 131.3,181.8 131.6,181.8 131.9,182.2 132.2,181.7 132.5,181.8 132.8,180.6 133.1,179.6 133.4,178.5 133.7,177.2 134,176 134.3,176.3 134.6,177.1 134.9,178.9 135.2,179.5 135.5,180.4 135.8,181.1 136.1,181.9 136.4,182.4 136.7,182.7 137,182.4 137.3,180.6 137.6,180.1 137.9,179.3 138.2,177.7 138.5,176.6 138.8,175.5 139.1,175.9 139.4,178 139.7,178.9 140,179.9 140.3,180.8 140.6,181.6 140.9,182.9 141.2,182.5 141.5,182.3 141.8,181.2 142.1,180.6 142.4,179.5 142.7,178.5 143,177.2 143.3,176 143.6,176.1 143.9,177.4 144.2,178.4 144.5,179.2 144.8,180.4 145.1,180.4 145.4,182.2 145.7,182.4 146,182.4 146.3,182.1 146.6,180.9 146.9,180.4 147.2,179 147.5,178.2 147.8,176.8 148.1,175.8 148.4,177 148.7,177.5 149,178.6 149.3,179.7 149.6,180.8 149.9,182.3 150.2,182 150.2,191.2 149.9,191.7 149.6,191.8 149.3,192.5 149,193.3 148.7,194.5 148.4,194.2 148.1,196 147.8,195.9 147.5,195.6 147.2,194.4 146.9,193.7 146.6,193.1 146.3,192.1 146,191.8 145.7,191.1 145.4,191.3 145.1,192 144.8,191.9 144.5,192.9 144.2,193.8 143.9,194.2 143.6,195.3 143.3,195.7 143,196.1 142.7,194.9 142.4,195.2 142.1,193.6 141.8,192.4 141.5,192.4 141.2,191.8 140.9,191.1 140.6,191.7 140.3,192.2 140,192.5 139.7,193.6 139.4,193.7 139.1,194.8 138.8,195.4 138.5,196.8 138.2,195.4 137.9,194.4 137.6,193.7 137.3,193.3 137,193.2 136.7,191.7 136.4,191.6 136.1,191.6 135.8,191.7 135.5,191.8 135.2,193.1 134.9,193.5 134.6,195.2 134.3,194.9 134,196.4 133.7,195.6 133.4,194.9 133.1,194.8 132.8,193.9 132.5,192.5 132.2,192.1 131.9,191.8 131.6,191.1 131.3,191.4 131,191.9 130.7,193 130.4,193.1 130.1,194 129.8,194.2 129.5,195.6 129.2,196.5 128.9,195.8 128.6,194.7 128.3,193.8 128,193.2 127.7,192.9 127.4,191.8 127.1,191.7 126.8,190.4 126.6,191.9 126.3,192.3 126,191.8 125.7,193.5 125.4,193.7 125.1,194.4 124.8,196.2 124.5,196 124.2,194.7 123.9,193.5 123.6,193.3 123.3,193 123,192.1 122.7,192 122.4,191.5 122.1,191.5 121.8,191.8 121.5,193.2 121.2,193.6 120.9,193.8 120.6,194.6 120.3,195 120,196.9 119.7,195.9 119.4,194.7 119.1,193.8 118.8,193.6 118.5,192.3 118.2,191.7 117.9,191.6 117.6,191.3 117.3,192.2 117,191.8 116.7,193.1 116.4,193.6 116.1,194.1 115.8,194.7 115.5,195.2 115.2,196 114.9,195.2 114.6,194.2 114.3,193.4 114,192.8 113.7,192.5 113.4,191.4 113.1,191.1 112.8,191.4 112.5,191.6 112.2,192.5 111.9,192.4 111.6,194 111.3,194.8 111,195.4 110.7,196.4 110.4,195.9 110.1,194.4 109.8,193.9 109.5,193.2 109.2,192.5 108.9,192.5 108.6,191.4 108.3,190.7 108,191.8 107.7,192.1 107.4,192.5 107.1,193.1 106.8,194.4 106.5,195.3 106.2,195.6 105.9,196.1 105.6,194.6 105.3,194.1 105,193.3 104.7,192.9 104.4,192.1 104.1,191.2 103.8,216 103.5,216" fill="#00f" stroke="#00f" stroke-width="0.5" stroke-linejoin="round"/>
<polygon points="149.9,192 150.2,199.9 150.5,206.8 150.8,209.4 151.1,209.8 151.4,209.6 151.7,208.5 152,208.2 152.3,208.1 152.6,208.6 152.9,209.2 153.2,208.6 153.5,209.2 153.8,208.9 154.1,208.9 154.4,209.2 154.8,208.6 155.1,208.9 155.4,209.7 155.7,209.2 156,209.2 156.3,209.1 156.6,209.1 156.9,209.1 157.2,208.9 157.5,210.1 157.8,209.6 158.1,210.1 158.4,210.3 158.7,209.9 159,209.5 159.3,209.7 159.6,210 159.6,222.2 159.3,222.1 159,222.4 158.7,223 158.4,222.6 158.1,222.1 157.8,222.2 157.5,222 157.2,222.6 156.9,223.1 156.6,222.2 156.3,222.9 156,222.3 155.7,223 155.4,222.7 155.1,224.1 154.8,223.3 154.4,222.5 154.1,223.5 153.8,222.8 153.5,223.1 153.2,223.2 152.9,222.9 152.6,223.5 152.3,223.2 152,223.9 151.7,223 151.4,223.1 151.1,222.8 150.8,223.6 150.5,219.5 150.2,208.2 149.9,196.1" fill="#00f" stroke="#00f" stroke-width="0.5" stroke-linejoin="round"/>
<polygon points="159.3,212 159.6,212 159.9,241.4 160.2,240.8 160.5,239.3 160.8,239.7 161.1,238.2 161.4,237.8 161.7,238 162,237.9 162.3,238.6 162.6,239.5 162.9,240.1 163.2,241 163.5,241.4 163.8,241.8 164.1,241.7 164.4,241.4 164.7,240.6 165,240.4 165.3,239.7 165.6,238.7 165.9,238.8 166.2,237.1 166.5,238.3 166.8,238.6 167.1,239.6 167.4,240.3 167.7,241 168,241.7 168.3,241.5 168.6,242.9 168.9,241.8 169.2,240.9 169.5,240.2 169.8,240.7 170.1,239.8 170.4,238.6 170.7,238.1 171,238.1 171.3,238.5 171.6,239.1 171.9,239.9 172.2,240.7 172.5,241.1 172.8,241.2 173.1,242.2 173.4,241.3 173.7,241.2 174,241.2 174.3,240.3 174.6,239.7 174.9,239 175.2,238.5 175.5,237.4 175.8,237.5 176.1,238.9 176.4,238.6 176.7,239.6 177,241.3 177.3,241.7 177.6,241.6 177.9,242 178.2,241.6 178.5,241.4 178.8,240.3 179.1,239.7 179.4,239.1 179.7,238.6 180,237.9 180.3,237.7 180.6,238.8 180.9,238.9 181.2,239.9 181.5,240.3 181.8,240.8 182.1,242 182.4,241.9 182.8,241.5 183.1,241.4 183.4,240.5 183.7,240.4 184,239.8 184.3,239.2 184.6,237.8 184.9,237.4 185.2,238.8 185.5,238.8 185.8,240 186.1,240.7 186.4,240.4 186.7,241.7 187,242 187.3,242.2 187.6,242.1 187.9,241.2 188.2,240.5 188.5,240.1 188.8,239.1 189.1,238.7 189.4,237.2 189.7,238.4 190,238.4 190.3,239.5 190.6,240 190.9,240.6 191.2,241.2 191.5,241.6 191.8,241.5 192.1,241.6 192.4,241.7 192.7,240.5 193,239.9 193.3,240.2 193.6,239.2 193.9,238.6 194.2,237.5 194.5,238.3 194.8,239.2 195.1,239.8 195.4,240.3 195.7,240.4 196,241.2 196.3,241 196.6,241.6 196.9,240.2 197.2,239.4 197.5,238.6 197.8,237.5 198.1,236.6 198.4,235.1 198.7,233.7 199,234.4 199.3,234.7 199.6,235.8 199.9,236.6 200.2,237.6 200.5,238.7 200.8,239.7 201.1,239.5 201.4,239 201.7,237.7 202,237.1 202.3,235.2 202.6,234.3 202.9,233.2 203.2,231.8 203.5,231.9 203.8,232.9 204.1,233.5 204.4,234.6 204.7,235.8 205,236.4 205.3,236.9 205.6,237.6 205.9,238 205.9,253.9 205.6,253.7 205.3,254.8 205,255.7 204.7,255.9 204.4,256.6 204.1,258.3 203.8,259.1 203.5,259.9 203.2,259.7 202.9,258.5 202.6,257.8 202.3,256.4 202,255.8 201.7,255.3 201.4,254.6 201.1,254.4 200.8,254.8 200.5,256.2 200.2,256.5 199.9,257.2 199.6,257.8 199.3,258.6 199,259.8 198.7,260.3 198.4,259.3 198.1,257.7 197.8,256.7 197.5,256 197.2,254.9 196.9,254 196.6,253.4 196.3,253 196,253.7 195.7,254.6 195.4,255.3 195.1,255.9 194.8,257 194.5,257.5 194.2,258.8 193.9,258 193.6,257.6 193.3,256.3 193,255.8 192.7,254.9 192.4,253.7 192.1,253.1 191.8,252.7 191.5,253.5 191.2,254.2 190.9,254.9 190.6,255.6 190.3,256.3 190,257.4 189.7,258.4 189.4,258.4 189.1,257.4 188.8,257 188.5,255.9 188.2,254.8 187.9,253.8 187.6,253.4 187.3,253.3 187,253.2 186.7,253.6 186.4,254.3 186.1,255.5 185.8,256.2 185.5,256.9 185.2,258.2 184.9,258.5 184.6,258.3 184.3,257.1 184,256.1 183.7,254.9 183.4,254.5 183.1,254 182.8,253.1 182.4,252.6 182.1,253.5 181.8,254.1 181.5,254.7 181.2,255.5 180.9,256.4 180.6,257.5 180.3,258.3 180,258 179.7,257.2 179.4,256.7 179.1,255.8 178.8,254.8 178.5,254.1 178.2,254.3 177.9,253.1 177.6,253.2 177.3,253.9 177,254.5 176.7,255.7 176.4,255.9 176.1,257 175.8,258.4 175.5,259.3 175.2,258.7 174.9,257.2 174.6,256.1 174.3,255.5 174,254.1 173.7,253.7 173.4,253.3 173.1,252.8 172.8,254 172.5,254.6 172.2,254.9 171.9,255.9 171.6,256.6 171.3,257.8 171,258.2 170.7,258.1 170.4,257.7 170.1,257.1 169.8,255.9 169.5,255 169.2,254.5 168.9,253.6 168.6,253.1 168.3,253.4 168,253.7 167.7,255 167.4,255.5 167.1,256.5 166.8,257.1 166.5,258.3 166.2,258.8 165.9,257.9 165.6,257 165.3,256.4 165,255.3 164.7,254.5 164.4,254 164.1,253.3 163.8,252.7 163.5,253.9 163.2,254.2 162.9,254.9 162.6,255.5 162.3,257 162,257.7 161.7,258 161.4,258.6 161.1,256.7 160.8,256 160.5,255.2 160.2,255.3 159.9,254.3 159.6,253.7 159.3,253.4" fill="#00f" stroke="#00f" stroke-width="0.5" stroke-linejoin="round"/>
<polygon points="205.5,235.6 205.8,225.5 206.1,216 206.4,208.2 206.7,209 207,207.9 207.3,207.8 207.6,208.7 207.9,208.5 208.2,208.8 208.5,209.1 208.8,208.8 209.1,208.9 209.4,207.8 209.7,208.2 210,208.7 210.3,208.7 210.6,209 210.9,208.5 211.2,209.2 211.5,209.6 211.8,209.1 212.1,209.3 212.4,209.2 212.7,209.4 213,209.2 213.3,209 213.6,209.3 213.9,209.3 214.2,208.7 214.5,209.5 214.8,209.5 215.1,209.6 215.1,223.1 214.8,222.8 214.5,223.3 214.2,222.6 213.9,223.1 213.6,223.3 213.3,222.9 213,223 212.7,222.9 212.4,223.4 212.1,223.4 211.8,223.1 211.5,222.9 211.2,223.4 210.9,223.2 210.6,223.6 210.3,222.8 210,223.6 209.7,224.1 209.4,223.5 209.1,223.6 208.8,224.9 208.5,223.6 208.2,224 207.9,223.7 207.6,223.8 207.3,224.5 207,224.5 206.7,224.4 206.4,224 206.1,233 205.8,245.6 205.5,257.8" fill="#00f" stroke="#00f" stroke-width="0.5" stroke-linejoin="round"/>
<polygon points="214.9,178 215.2,178 215.5,177.6 215.8,177.6 216.1,177.7 216.4,177.7 216.7,177.7 217,177.8 217.3,177.7 217.6,178.1 217.9,177.9 218.2,178.1 218.5,178.4 218.8,178.2 219.1,178.4 219.4,178 219.7,178 220,177.6 220.3,177.7 220.6,177.8 220.9,177.7 221.2,177.7 221.5,177.8 221.8,177.7 222.1,177.9 222.4,178 222.7,178.5 223,178.5 223.3,178.2 223.6,178.2 223.9,177.9 224.2,178 224.5,178.1 224.8,177.7 225.1,177.5 225.4,177.3 225.7,178 226,177.8 226.3,177.6 226.6,178.2 226.9,177.8 227.2,178.3 227.5,178.5 227.8,178.4 228.1,178 228.4,178.5 228.7,177.8 229,177.8 229.3,177.7 229.6,177.3 229.9,177.5 230.2,177.7 230.5,177.9 230.8,177.7 231.1,178 231.4,178 231.7,178.4 232,178 232.3,178.6 232.6,178.2 232.9,178 233.2,177.4 233.5,177.6 233.8,177.8 234.1,178.1 234.4,177.5 234.7,177.5 235,177.8 235.3,177.8 235.6,177.8 235.9,178 236.2,178.1 236.5,178.5 236.8,178.7 237.1,178.7 237.4,178.4 237.7,178.1 238,177.9 238.4,177.9 238.7,177.5 239,178 239.3,177.7 239.6,177.9 239.9,177.6 240.2,178 240.5,178 240.8,178.1 241.1,178.2 241.4,178.4 241.7,178.8 242,178.5 242.3,178.1 242.6,178 242.9,177.6 243.2,177.3 243.5,177.3 243.8,177.5 244.1,177.6 244.4,177.4 244.7,177.9 245,178 245.3,178.1 245.6,177.9 245.9,178.4 246.2,178.5 246.5,178.1 246.8,177.7 247.1,178.4 247.4,178 247.7,177.6 248,178 248.3,177.8 248.6,177.7 248.9,177.7 249.2,177.9 249.5,178.1 249.8,178 250.1,178.1 250.4,178.5 250.7,178 251,178.4 251.3,178.2 251.6,178 251.9,177.9 252.2,177.8 252.5,177.7 252.8,177.6 253.1,177.6 253.4,177.7 253.7,177.6 254,178 254.3,177.6 254.6,178.1 254.9,178.4 255.2,178.2 255.5,178.4 255.8,178.6 256.1,178.1 256.4,177.8 256.7,177.2 257,177.8 257.3,177.7 257.6,177.7 257.9,178 258.2,177.7 258.5,177.8 258.8,177.7 259.1,178 259.4,178.2 259.7,178.6 260,178.7 260.3,178.2 260.6,178.1 260.9,178.3 261.2,177.7 261.5,177.9 261.8,178 261.8,192.6 261.5,192.9 261.2,193.1 260.9,193.6 260.6,193.1 260.3,193.4 260,193.6 259.7,193.5 259.4,193.7 259.1,193.7 258.8,193.7 258.5,193.3 258.2,193.1 257.9,193.1 257.6,193.1 257.3,192.6 257,192.8 256.7,193 256.4,193.2 256.1,193.3 255.8,193.6 255.5,193.1 255.2,193.7 254.9,194 254.6,193.8 254.3,193.8 254,193.2 253.7,192.9 253.4,193.1 253.1,193 252.8,192.5 252.5,193.1 252.2,193 251.9,193.5 251.6,193.5 251.3,193.9 251,193.6 250.7,194 250.4,193.8 250.1,193.5 249.8,193.7 249.5,193.6 249.2,193.2 248.9,193 248.6,192.8 248.3,192.8 248,192.7 247.7,193 247.4,192.9 247.1,193.2 246.8,193.3 246.5,193.7 246.2,193.6 245.9,193.9 245.6,193.6 245.3,193.8 245,193.7 244.7,193.2 244.4,193.3 244.1,193 243.8,192.9 243.5,193.1 243.2,192.8 242.9,193 242.6,193.4 242.3,193.4 242,193.4 241.7,193.4 241.4,193.3 241.1,193.7 240.8,193.9 240.5,193.4 240.2,193.5 239.9,193.4 239.6,193.4 239.3,192.7 239,192.6 238.7,193 238.4,192.8 238,192.9 237.7,192.9 237.4,193.5 237.1,193.9 236.8,193.6 236.5,193.5 236.2,193.7 235.9,193.4 235.6,193.7 235.3,193.5 235,193.4 234.7,192.8 234.4,193.1 234.1,193 233.8,192.8 233.5,193.5 233.2,193.3 232.9,193.6 232.6,193.6 232.3,193.7 232,193.9 231.7,193.6 231.4,193.6 231.1,193.5 230.8,193.6 230.5,193.4 230.2,193.1 229.9,193.1 229.6,192.4 229.3,192.7 229,192.9 228.7,193.2 228.4,193.4 228.1,193.8 227.8,193.3 227.5,193.9 227.2,193.7 226.9,193.7 226.6,193.3 226.3,193.4 226,193.2 225.7,193.1 225.4,193 225.1,192.8 224.8,192.7 224.5,193.1 224.2,192.9 223.9,193.3 223.6,193.6 223.3,193.7 223,193.7 222.7,193.4 222.4,193.3 222.1,193.3 221.8,193.6 221.5,193.3 221.2,193.3 220.9,193.1 220.6,193.2 220.3,192.3 220,192.3 219.7,192.9 219.4,193.3 219.1,193.6 218.8,193.4 218.5,193.7 218.2,193.6 217.9,193.6 217.6,193.6 217.3,193.9 217,193.6 216.7,193.6 216.4,193.1 216.1,193 215.8,192.8 215.5,193.1 215.2,209 214.9,209" fill="#00f" stroke="#00f" stroke-width="0.5" stroke-linejoin="round"/>
<polygon points="261.5,190.3 261.8,199.5 262.1,207.6 262.4,210.2 262.7,209 263,209.3 263.3,209.3 263.6,209.9 263.9,209.3 264.2,209 264.5,209.4 264.8,209.3 265.1,210.1 265.4,209.8 265.7,209.7 266.1,209.7 266.4,210 266.7,209.5 267,209.4 267.3,209.1 267.6,210.3 267.9,210.1 268.2,210.2 268.5,210 268.8,210.7 269.1,209.7 269.4,210.6 269.7,209.8 270,210 270.3,209.8 270.6,210.3 270.6,221.9 270.3,221.6 270,221.4 269.7,221.4 269.4,220.9 269.1,221.9 268.8,221.7 268.5,221.5 268.2,221.6 267.9,221.8 267.6,221.7 267.3,221.7 267,221.4 266.7,221.1 266.4,221.9 266.1,221.6 265.7,222 265.4,221.3 265.1,221.9 264.8,222.2 264.5,221.6 264.2,221 263.9,221.9 263.6,221.7 263.3,222 263,222.3 262.7,222 262.4,221.2 262.1,217.9 261.8,206.2 261.5,193.9" fill="#00f" stroke="#00f" stroke-width="0.5" stroke-linejoin="round"/>
<polygon points="270.3,212 270.6,212 270.9,239.5 271.2,239.6 271.5,239.5 271.8,239.6 272.1,239.5 272.4,239.5 272.7,239.6 273,239.8 273.3,239.6 273.6,239.8 273.9,240.2 274.2,240.6 274.5,240.7 274.8,240.8 275.1,240.1 275.4,239.8 275.7,239.8 276,239.8 276.3,239.6 276.6,239.4 276.9,239.6 277.2,239.7 277.5,239.5 277.8,239.7 278.1,240.3 278.4,239.8 278.7,240.5 279,240.5 279.3,240.6 279.6,240.3 279.9,239.8 280.2,240.1 280.5,239.6 280.8,240 281.1,239.9 281.4,239.6 281.7,239.8 282,239.8 282.3,239.7 282.6,240.2 282.9,240.2 283.2,240.5 283.5,240.8 283.8,240.7 284.1,240.5 284.4,240 284.7,239.9 285,239.9 285.3,239.7 285.6,239.6 285.9,240 286.2,239.7 286.5,240.1 286.8,239.6 287.1,239.9 287.4,240 287.7,240.2 288,240.4 288.3,240.5 288.6,240.2 288.9,240.5 289.2,240.1 289.5,239.7 289.8,239.6 290.1,239.8 290.4,239.7 290.7,239.5 291,239.8 291.3,239.5 291.6,239.8 291.9,240.3 292.2,239.7 292.5,240.3 292.8,240.8 293.1,240.4 293.4,240.1 293.7,239.9 294,239.5 294.3,239.5 294.6,239.7 294.9,239.5 295.2,239.6 295.5,239.6 295.8,239.8 296.1,239.5 296.4,239.9 296.7,240 297,240.2 297.3,240.3 297.6,240.1 297.9,240.4 298.2,240.3 298.5,240.4 298.8,240 299.1,240 299.4,239.8 299.7,239.5 300,239.7 300.3,239.4 300.6,239.8 300.9,239.9 301.2,239.8 301.5,240.4 301.8,240.6 302.1,240.7 302.4,240.6 302.7,240.5 303,240 303.3,239.6 303.6,239.6 303.9,239.8 304.2,239.7 304.5,239.3 304.8,239.9 305.1,239.8 305.4,240.1 305.7,240.2 306,240 306.3,240.3 306.6,240.4 306.9,240.3 307.2,240.2 307.5,240.2 307.8,240.2 308.1,239.6 308.4,239.8 308.7,239.6 309,239.6 309.3,239.8 309.6,239.6 309.9,240 310.2,239.8 310.5,239.9 310.8,240.4 311.1,240.1 311.4,240.3 311.7,240.3 312,240.2 312.3,240 312.6,239.5 312.9,239.5 313.2,239.8 313.5,239.7 313.8,239.4 314.1,239.7 314.4,239.8 314.7,240 315,239.8 315.3,240.4 315.6,240.3 315.9,240.8 316.2,240.6 316.5,240.1 316.8,240 317.1,240 317.1,253.6 316.8,253.4 316.5,254 316.2,254.1 315.9,254.1 315.6,254.6 315.3,254.3 315,254 314.7,253.9 314.4,253.4 314.1,253.5 313.8,253.1 313.5,253.3 313.2,253.5 312.9,253.5 312.6,253.7 312.3,254.1 312,254 311.7,253.9 311.4,254 311.1,254.4 310.8,254.2 310.5,254.2 310.2,254.1 309.9,254 309.6,253.9 309.3,253.7 309,253.6 308.7,253 308.4,253.4 308.1,253.5 307.8,254.1 307.5,254.3 307.2,254.2 306.9,254.4 306.6,254.1 306.3,254 306,253.8 305.7,254.1 305.4,253.9 305.1,253.6 304.8,253.6 304.5,253.4 304.2,253.3 303.9,253.3 303.6,253.3 303.3,253.4 303,253.9 302.7,253.9 302.4,254.1 302.1,254.4 301.8,254.2 301.5,254 301.2,253.9 300.9,254 300.6,254 300.3,253.7 300,253.6 299.7,253.3 299.4,252.9 299.1,253.4 298.8,253.4 298.5,253.6 298.2,253.9 297.9,254 297.6,254.2 297.3,253.8 297,254.1 296.7,254.3 296.4,253.7 296.1,254.3 295.8,254.1 295.5,253.8 295.2,253.6 294.9,253.2 294.6,253.4 294.3,253.8 294,253.9 293.7,254.1 293.4,254.2 293.1,254.1 292.8,254.1 292.5,254.6 292.2,254.3 291.9,254.1 291.6,254.1 291.3,254 291,253.8 290.7,253.6 290.4,253.3 290.1,253.1 289.8,253.6 289.5,254.2 289.2,253.8 288.9,254.1 288.6,253.9 288.3,254 288,254.1 287.7,254.2 287.4,254.1 287.1,254 286.8,254.1 286.5,253.9 286.2,253.6 285.9,253.2 285.6,253 285.3,253.6 285,253.4 284.7,253.6 284.4,254.1 284.1,254 283.8,253.7 283.5,254.1 283.2,254.3 282.9,254 282.6,254.3 282.3,254.2 282,253.7 281.7,253.7 281.4,253.6 281.1,253.5 280.8,253.3 280.5,253.5 280.2,253.7 279.9,254 279.6,254.2 279.3,254.1 279,254.2 278.7,254.3 278.4,253.9 278.1,254.1 277.8,254.1 277.5,254.2 277.2,253.7 276.9,253.5 276.6,253.4 276.3,253.4 276,253.5 275.7,253.9 275.4,253.5 275.1,254.1 274.8,254.3 274.5,254.4 274.2,254.4 273.9,253.7 273.6,254.2 273.3,254.3 273,254 272.7,253.6 272.4,253.8 272.1,253.3 271.8,253.1 271.5,253.4 271.2,253.7 270.9,253.6 270.6,253.6 270.3,254.2" fill="#00f" stroke="#00f" stroke-width="0.5" stroke-linejoin="round"/>
<polygon points="316.8,211.6 317.1,211.7 317.4,211.4 317.7,211.3 318,211.6 318.3,211.5 318.6,211.4 318.9,211.5 319.2,211.7 319.5,212.1 319.8,212.4 320.1,212 320.4,212.6 320.7,212.2 321,212.1 321.3,212 321.6,211.5 321.9,211.8 322.2,211.3 322.5,211.4 322.8,211.3 323.1,211.9 323.4,211.9 323.7,211.9 324,211.9 324.3,211.9 324.6,212.5 324.9,212.6 325.2,212.5 325.5,212.1 325.8,211.9 326.1,211.8 326.3,211.9 326.6,211.4 326.9,211.5 327.2,211.8 327.5,211.7 327.8,211.9 328.1,211.7 328.4,211.9 328.7,212.2 329,212.2 329.3,212.3 329.6,212.3 329.9,211.9 330.2,212.3 330.5,211.8 330.8,211.6 331.1,211.8 331.4,211.4 331.7,211.2 332,211.4 332.3,211.5 332.6,211.7 332.9,211.8 333.2,212 333.5,212 333.8,212.2 334.1,212.3 334.4,212.2 334.7,212.2 335,212 335.3,212.2 335.3,220.6 335,221.2 334.7,221.2 334.4,221.4 334.1,221 333.8,221.6 333.5,221.2 333.2,221.4 332.9,221.3 332.6,220.9 332.3,221 332,220.6 331.7,220.5 331.4,220.4 331.1,220.4 330.8,220.7 330.5,221 330.2,220.8 329.9,221.3 329.6,221.1 329.3,221.4 329,221.3 328.7,221.3 328.4,221.2 328.1,220.8 327.8,221 327.5,220.8 327.2,220.7 326.9,220.7 326.6,220.9 326.3,220.5 326.1,220.8 325.8,221.2 325.5,221 325.2,221.2 324.9,221.3 324.6,221.4 324.3,221.2 324,221.3 323.7,221.3 323.4,220.9 323.1,220.8 322.8,220.8 322.5,220.7 322.2,220.2 321.9,220.5 321.6,220.9 321.3,220.9 321,221.4 320.7,221.5 320.4,221.3 320.1,220.9 319.8,221 319.5,221.2 319.2,221.2 318.9,220.9 318.6,220.8 318.3,220.4 318,220.9 317.7,220.4 317.4,220.7 317.1,254 316.8,254" fill="#00f" stroke="#00f" stroke-width="0.5" stroke-linejoin="round"/>
<polyline points="57.4,216.5 103.7,216.5 112.9,185.9 150,185.9 168.5,247.1 205.6,247.1 224.1,185.9 261.1,185.9 279.6,247.1 316.7,247.1 326,216.5 335.3,216.5" fill="none" stroke="#f00" stroke-width="2.3" stroke-linejoin="round"/>
</g>
<path d="M57.50 267.5v-3.3M57.50 165.5v3.3M103.50 267.5v-3.3M103.50 165.5v3.3M150.50 267.5v-3.3M150.50 165.5v3.3M196.50 267.5v-3.3M196.50 165.5v3.3M242.50 267.5v-3.3M242.50 165.5v3.3M289.50 267.5v-3.3M289.50 165.5v3.3M335.50 267.5v-3.3M335.50 165.5v3.3M57.5 257.50h3.3M335.5 257.50h-3.3M57.5 236.50h3.3M335.5 236.50h-3.3M57.5 216.50h3.3M335.5 216.50h-3.3M57.5 196.50h3.3M335.5 196.50h-3.3M57.5 175.50h3.3M335.5 175.50h-3.3" stroke="#6a6a6a" stroke-width="0.9" fill="none"/>
<rect x="57.5" y="165.5" width="278.00" height="102.00" fill="none" stroke="#6a6a6a" stroke-width="1"/>
<g font-size="10.7" fill="#262626"><text x="57.5" y="281.6" text-anchor="middle">0.1</text><text x="103.5" y="281.6" text-anchor="middle">0.2</text><text x="150.5" y="281.6" text-anchor="middle">0.3</text><text x="196.5" y="281.6" text-anchor="middle">0.4</text><text x="242.5" y="281.6" text-anchor="middle">0.5</text><text x="289.5" y="281.6" text-anchor="middle">0.6</text><text x="335.5" y="281.6" text-anchor="middle">0.7</text><text x="52.9" y="260.9" text-anchor="end">-2000</text><text x="52.9" y="239.9" text-anchor="end">-1000</text><text x="52.9" y="219.9" text-anchor="end">0</text><text x="52.9" y="199.9" text-anchor="end">1000</text><text x="52.9" y="178.9" text-anchor="end">2000</text></g>
<path d="M443.50 166.5V266.5M489.50 166.5V266.5M535.50 166.5V266.5M580.50 166.5V266.5M626.50 166.5V266.5M397.5 256.50H672.5M397.5 236.50H672.5M397.5 216.50H672.5M397.5 196.50H672.5M397.5 176.50H672.5" stroke="#c8c8c8" stroke-width="1" fill="none"/>
<clipPath id="cBR"><rect x="397.5" y="166.5" width="275.00" height="100.00"/></clipPath>
<g clip-path="url(#cBR)">
<polyline points="397.4,216.5 398.1,216.5 398.8,216.7 399.5,216.7 400.2,216.7 400.9,216.6 401.6,216.6 402.3,216.4 403,216.6 403.7,216.8 404.4,216.9 405.1,216.6 405.8,216.9 406.5,216.4 407.2,216.9 407.9,216.5 408.6,216.8 409.3,216.5 410,216.5 410.7,216.6 411.4,217 412.1,216.6 412.8,216.8 413.5,216.7 414.2,216.8 414.9,216.8 415.6,216.8 416.3,216.4 417,216.7 417.7,216.8 418.4,216.6 419.1,216.8 419.8,216.5 420.5,216.9 421.2,216.6 421.9,216.6 422.6,216.9 423.3,216.9 424,216.6 424.7,216.6 425.4,216.9 426.1,216.1 426.8,217 427.5,217 428.2,216.5 428.9,217 429.6,216.8 430.3,216.8 431,216.2 431.7,216.6 432.4,216.7 433.1,216.6 433.8,216.6 434.5,216.6 435.2,216.1 435.9,216.7 436.6,216.6 437.3,216.7 438,216.6 438.7,216.7 439.4,216.8 440.1,217.1 440.8,216.5 441.5,217.1 442.2,216.6 442.9,216.5 443.5,216.7 443.5,192 443.6,191.5 443.9,190.1 444.1,188.8 444.4,187.4 444.6,186.1 444.9,184.7 445.1,183.4 445.4,182.5 445.6,183.5 445.9,184.6 446.1,185.6 446.4,186.7 446.6,187.7 446.9,188.7 447.1,189.8 447.4,190.8 447.6,190.8 447.9,192 448.1,191.1 448.4,189.7 448.6,188.3 448.9,186.9 449.1,185.5 449.4,184.1 449.6,182.7 449.9,181.3 450.1,181.2 450.4,182.3 450.6,183.4 450.9,184.6 451.1,185.7 451.4,186.9 451.6,188 451.9,189.1 452.1,190.3 452.4,191.4 452.6,191.8 452.9,190.4 453.1,189 453.4,187.6 453.6,186.2 453.9,184.8 454.1,183.4 454.4,182 454.6,180.6 454.9,181.7 455.1,182.9 455.4,184 455.6,185.2 455.9,186.3 456.1,187.5 456.4,188.6 456.6,189.7 456.9,190.9 457.1,192 457.4,191 457.6,189.6 457.9,188.2 458.1,186.8 458.4,185.4 458.6,184.1 458.9,182.7 459.1,181.3 459.4,181.2 459.6,182.3 459.9,183.5 460.1,184.6 460.4,185.8 460.6,186.9 460.9,188 461.1,189.2 461.4,190.3 461.6,191.5 461.9,191.7 462.1,190.3 462.4,188.9 462.6,187.5 462.9,186.1 463.1,184.7 463.4,183.3 463.6,181.9 463.9,180.7 464.1,181.8 464.4,182.9 464.6,184.1 464.9,185.2 465.1,186.4 465.4,187.5 465.6,188.6 465.9,189.8 466.1,190.9 466.4,192.1 466.6,191 466.9,189.6 467.1,188.2 467.4,186.8 467.6,185.4 467.9,184 468.1,182.6 468.4,181.2 468.6,181.2 468.9,182.4 469.1,183.5 469.4,184.7 469.6,185.8 469.9,187 470.1,188.1 470.4,189.2 470.6,190.4 470.9,191.5 471.1,191.6 471.4,190.2 471.6,188.9 471.9,187.5 472.1,186.1 472.4,184.7 472.6,183.3 472.9,181.9 473.1,180.7 473.4,181.8 473.6,183 473.9,184.1 474.1,185.3 474.4,186.4 474.6,187.5 474.9,188.7 475.1,189.8 475.4,191 475.6,192.1 475.9,190.9 476.1,189.5 476.4,188.1 476.6,186.7 476.9,185.3 477.1,183.9 477.4,182.5 477.6,181.2 477.9,181.3 478.1,182.4 478.4,183.6 478.6,184.7 478.9,185.9 479.1,187 479.4,188.1 479.6,189.3 479.9,190.4 480.1,191.6 480.4,191.6 480.6,190.2 480.9,188.8 481.1,187.4 481.4,186 481.6,184.6 481.9,183.2 482.1,181.8 482.4,180.7 482.6,181.9 482.9,183 483.1,184.2 483.4,185.3 483.6,186.4 483.9,187.6 484.1,188.7 484.4,189.9 484.6,191 484.9,192.2 485.1,190.9 485.4,189.5 485.6,188.1 485.9,186.7 486.1,185.3 486.4,183.9 486.6,182.5 486.9,181.1 487.1,181.3 487.4,182.5 487.6,183.6 487.9,184.8 488.1,185.9 488.4,187 488.6,188.2 488.9,190 488.9,217 490.5,216.2 491.5,214.3 492.4,214 493.4,216 494.8,218.2 496,217.5 497.2,216.2 497.9,217 498,217 498,247 498.4,241.8 498.6,243.2 498.9,244.6 499.1,246 499.4,247.4 499.6,248.8 499.9,250.2 500.1,251.6 500.4,251.8 500.6,250.4 500.9,249 501.1,247.6 501.4,246.3 501.6,244.9 501.9,243.5 502.1,242.1 502.4,240.7 502.6,239.9 502.9,241.3 503.1,242.7 503.4,244.1 503.6,245.5 503.9,246.9 504.1,248.3 504.4,249.7 504.6,251.1 504.9,252.3 505.1,250.9 505.4,249.5 505.6,248.1 505.9,246.7 506.1,245.3 506.4,243.9 506.6,242.5 506.9,241.1 507.1,239.7 507.4,240.9 507.6,242.3 507.9,243.7 508.1,245.1 508.4,246.5 508.6,247.9 508.9,249.3 509.1,250.7 509.4,252.1 509.6,251.3 509.9,249.9 510.1,248.5 510.4,247.1 510.6,245.7 510.9,244.4 511.1,243 511.4,241.6 511.6,240.2 511.9,240.4 512.1,241.8 512.4,243.2 512.6,244.6 512.9,246 513.1,247.4 513.4,248.8 513.6,250.2 513.9,251.6 514.1,251.8 514.4,250.4 514.6,249 514.9,247.6 515.1,246.2 515.4,244.8 515.6,243.4 515.9,242 516.1,240.6 516.4,240 516.6,241.4 516.9,242.8 517.1,244.2 517.4,245.6 517.6,247 517.9,248.4 518.1,249.8 518.4,251.2 518.6,252.2 518.9,250.8 519.1,249.4 519.4,248 519.6,246.6 519.9,245.2 520.1,243.8 520.4,242.5 520.6,241.1 520.9,239.7 521.1,240.9 521.4,242.3 521.6,243.7 521.9,245.1 522.1,246.5 522.4,247.9 522.6,249.3 522.9,250.7 523.1,252.1 523.4,251.3 523.6,249.9 523.9,248.5 524.1,247.1 524.4,245.7 524.6,244.3 524.9,242.9 525.1,241.5 525.4,240.1 525.6,240.5 525.9,241.9 526.1,243.3 526.4,244.7 526.6,246.1 526.9,247.5 527.1,248.9 527.4,250.3 527.6,251.7 527.9,251.7 528.1,250.3 528.4,248.9 528.6,247.5 528.9,246.1 529.1,244.7 529.4,243.3 529.6,241.9 529.9,240.6 530.1,240 530.4,241.4 530.6,242.8 530.9,244.2 531.1,245.6 531.4,247 531.6,248.4 531.9,249.8 532.1,251.2 532.4,252.2 532.6,250.8 532.9,249.4 533.1,248 533.4,246.6 533.6,245.2 533.9,243.8 534.1,242.4 534.4,241 534.6,239.6 534.9,241 535.1,242.4 535.4,243.8 535.6,245.2 535.9,246.6 536.1,248 536.4,249.4 536.6,250.8 536.9,252.2 537.1,251.2 537.4,249.8 537.6,248.4 537.9,247 538.1,245.6 538.4,244.2 538.6,242.8 538.9,241.4 539.1,240 539.4,240.6 539.6,241.9 539.9,243.3 540.1,244.7 540.4,246.1 540.6,247.5 540.9,248.9 541.1,250.3 541.4,251.7 541.6,251.7 541.9,250.3 542.1,248.9 542.4,247.5 542.6,246.1 542.9,244.7 543.1,243.3 543.4,241.9 543.6,240.5 543.9,240.1 544.1,246 544.1,215.5 544.4,214.2 544.9,217.8 545.4,214.7 545.9,217.8 546.4,215.4 546.9,217.5 547.4,215.2 547.9,217.7 548.4,215.4 548.9,217.8 549.4,215.3 549.9,217.5 550.4,215.5 550.9,217.3 551.4,215.6 551.9,217.6 552.4,215.1 552.9,217.4 553.3,216 553.3,184.5 553.5,183.5 554,189 554.4,184.1 554.9,189.7 555.3,183.4 555.8,189.3 556.2,184.3 556.7,189.3 557.1,183.6 557.6,188.5 558,183.4 558.5,189.3 558.9,184.1 559.4,188.5 559.8,184.3 560.3,188.6 560.7,183.9 561.2,188.5 561.6,184.1 562.1,189 562.5,184 563,188.3 563.4,184.7 563.9,188.8 564.3,184 564.8,189 565.2,184.6 565.7,187.9 566.1,184.9 566.6,187.9 567,184.5 567.5,188 567.9,183.8 568.4,188.6 568.8,184.5 569.3,188.3 569.7,184.4 570.2,188.3 570.6,184.3 571.1,188 571.5,184.5 572,188.4 572.4,184.3 572.9,188.2 573.3,184.3 573.8,187.9 574.2,184.3 574.7,188 575.1,184.8 575.6,188 576,184.3 576.5,188.3 576.9,184.7 577.4,188.5 577.8,184.4 578.3,189 578.7,184.4 579.2,188.4 579.6,185.3 580.1,188 580.5,184.7 581,188.4 581.4,184.1 581.9,188.1 582.3,184.7 582.8,187.9 583.2,184.4 583.7,188.6 584.1,184.4 584.6,188.4 585,184.3 585.5,188.1 585.9,184.3 586.4,188.2 586.8,184.7 587.3,188.3 587.7,185.1 588.2,188.4 588.6,184.6 589.1,188.9 589.5,184.5 590,188 590.4,184.6 590.9,187.9 591.3,184.7 591.8,188.6 592.2,184.7 592.7,188.1 593.1,184.5 593.6,188.4 594,184.9 594.5,188.1 594.9,184.4 595.4,188.5 595.8,184.6 596.3,188.3 596.7,184.7 597.2,188 597.6,184.5 598.1,188.5 598.5,184.5 599,188.1 599.3,187 599.3,216.5 599.5,214.9 600,217.5 600.5,215.8 601,217.2 601.5,215.3 602,217.9 602.5,215.3 603,217.5 603.5,215 604,217.6 604.5,215.6 605,217.6 605.5,215.3 606,217.5 606.5,215.4 607,217.6 607.5,215.4 608,217.6 608.4,216.5 608.4,247 608.6,242.6 609.1,248.2 609.5,242.2 610,248.1 610.4,243.4 610.9,248 611.3,244 611.8,247.7 612.2,243.2 612.7,247.6 613.1,243.3 613.6,247.6 614,243.1 614.5,247.4 614.9,244.2 615.4,247.5 615.8,244 616.3,247.1 616.7,243.7 617.2,247.6 617.6,243.8 618.1,247.2 618.5,243.7 619,247.4 619.4,244.1 619.9,247.8 620.3,243.4 620.8,246.8 621.2,243.8 621.7,247.4 622.1,244 622.6,247.7 623,243.6 623.5,248 623.9,243.9 624.4,246.9 624.8,244.1 625.3,247.5 625.7,243.9 626.2,246.9 626.6,243.7 627.1,247.4 627.5,243.8 628,247.6 628.4,244.2 628.9,247.9 629.3,244.2 629.8,247.4 630.2,244.3 630.7,247.5 631.1,244.1 631.6,247.3 632,243.4 632.5,246.7 632.9,243.9 633.4,247.2 633.8,243.8 634.3,247.7 634.7,243.4 635.2,246.9 635.6,243.9 636.1,247.5 636.5,243.8 637,247.2 637.4,243.4 637.9,247.4 638.3,243.6 638.8,247.5 639.2,244.1 639.7,247.2 640.1,244 640.6,247.5 641,244.1 641.5,247.9 641.9,244.1 642.4,247.6 642.8,244.1 643.3,247.3 643.7,243.9 644.2,247.5 644.6,244.2 645.1,247.8 645.5,244.6 646,247.1 646.4,243.9 646.9,246.9 647.3,243.7 647.8,246.9 648.2,244.2 648.7,247.6 649.1,243.6 649.6,247.5 650,244.1 650.5,247.9 650.9,244.1 651.4,247.4 651.8,243.9 652.3,247.6 652.7,244 653.2,247.3 653.6,243.5 654.3,245 654.3,216.2 654.6,215.1 655.1,217.2 655.6,214.9 656.1,217.6 656.6,215.2 657.1,217.7 657.6,215 658.1,217.6 658.6,215 659.1,217 659.6,215.1 660.1,217.4 660.6,215.2 661.1,217.1 661.6,215.6 662.1,217.2 662.6,215.3 663.1,217.5 663.6,215.2 664.1,217.5 664.6,215.5 665.1,217.4 665.6,215.6 666.1,217.3 666.6,215.1 667.1,217.5 667.6,215.1 668.1,217.5 668.6,215.4 669.1,217.3 669.6,215.5 670.1,217.5 670.6,214.7 671.1,217.3 671.6,215.4 672.1,217.5 672.6,215.3" fill="none" stroke="#00f" stroke-width="1.4" stroke-linejoin="round"/>
<polyline points="397.4,216.5 443.3,216.5 452.5,186.5 489,186.5 507.4,246.5 544.1,246.5 562.5,186.5 599.1,186.5 617.4,246.5 654.2,246.5 663.3,216.5 672.5,216.5" fill="none" stroke="#f00" stroke-width="2.3" stroke-linejoin="round"/>
</g>
<path d="M397.50 266.5v-3.3M397.50 166.5v3.3M443.50 266.5v-3.3M443.50 166.5v3.3M489.50 266.5v-3.3M489.50 166.5v3.3M535.50 266.5v-3.3M535.50 166.5v3.3M580.50 266.5v-3.3M580.50 166.5v3.3M626.50 266.5v-3.3M626.50 166.5v3.3M672.50 266.5v-3.3M672.50 166.5v3.3M397.5 256.50h3.3M672.5 256.50h-3.3M397.5 236.50h3.3M672.5 236.50h-3.3M397.5 216.50h3.3M672.5 216.50h-3.3M397.5 196.50h3.3M672.5 196.50h-3.3M397.5 176.50h3.3M672.5 176.50h-3.3" stroke="#6a6a6a" stroke-width="0.9" fill="none"/>
<rect x="397.5" y="166.5" width="275.00" height="100.00" fill="none" stroke="#6a6a6a" stroke-width="1"/>
<g font-size="10.7" fill="#262626"><text x="397.5" y="280.6" text-anchor="middle">0.1</text><text x="443.5" y="280.6" text-anchor="middle">0.2</text><text x="489.5" y="280.6" text-anchor="middle">0.3</text><text x="535.5" y="280.6" text-anchor="middle">0.4</text><text x="580.5" y="280.6" text-anchor="middle">0.5</text><text x="626.5" y="280.6" text-anchor="middle">0.6</text><text x="672.5" y="280.6" text-anchor="middle">0.7</text><text x="392.9" y="259.9" text-anchor="end">-2000</text><text x="392.9" y="239.9" text-anchor="end">-1000</text><text x="392.9" y="219.9" text-anchor="end">0</text><text x="392.9" y="199.9" text-anchor="end">1000</text><text x="392.9" y="179.9" text-anchor="end">2000</text></g>
<rect x="62.5" y="28.5" width="97.0" height="23.0" fill="#fff" stroke="#6a6a6a" stroke-width="0.9"/>
<line x1="66.0" y1="34.8" x2="96.5" y2="34.8" stroke="#3c3cff" stroke-width="1.3"/>
<line x1="66.0" y1="45.3" x2="96.5" y2="45.3" stroke="#f00" stroke-width="2"/>
<g font-size="8.3" fill="#262626"><text x="99.1" y="37.7">P (Instantaneous)</text><text x="99.1" y="48.2">P (Average)</text></g>
<rect x="402.5" y="30.5" width="97.0" height="23.0" fill="#fff" stroke="#6a6a6a" stroke-width="0.9"/>
<line x1="406.0" y1="36.7" x2="436.5" y2="36.7" stroke="#3c3cff" stroke-width="1.3"/>
<line x1="406.0" y1="47.0" x2="436.5" y2="47.0" stroke="#f00" stroke-width="2"/>
<g font-size="8.3" fill="#262626"><text x="439.1" y="39.6">P (Instantaneous)</text><text x="439.1" y="49.9">P (Average)</text></g>
<rect x="58.3" y="242.5" width="99.2" height="22.5" fill="#fff" stroke="#6a6a6a" stroke-width="0.9"/>
<line x1="61.8" y1="248.5" x2="92.3" y2="248.5" stroke="#3c3cff" stroke-width="1.3"/>
<line x1="61.8" y1="258.7" x2="92.3" y2="258.7" stroke="#f00" stroke-width="2"/>
<g font-size="8.2" fill="#262626"><text x="94.0" y="251.4">Q (Instantaneous)</text><text x="94.0" y="261.6">Q (Average)</text></g>
<rect x="398.5" y="243.5" width="98.0" height="23.0" fill="#fff" stroke="#6a6a6a" stroke-width="0.9"/>
<line x1="402.0" y1="249.9" x2="432.5" y2="249.9" stroke="#3c3cff" stroke-width="1.3"/>
<line x1="402.0" y1="259.9" x2="432.5" y2="259.9" stroke="#f00" stroke-width="2"/>
<g font-size="8.2" fill="#262626"><text x="434.2" y="252.8">Q (Instantaneous)</text><text x="434.2" y="262.8">Q (Average)</text></g>
<text x="66" y="10.4" font-size="12.2" font-weight="bold" fill="#000">Conventional SVM</text>
<text x="406.2" y="11.6" font-size="12.2" font-weight="bold" fill="#000">Proposed MMC</text>
<g font-size="10.5" fill="#262626" text-anchor="middle">
<text x="196.4" y="7.6">(a)</text><text x="535" y="10.4">(a)</text><text x="196.3" y="161.6">(b)</text><text x="535" y="162.4">(b)</text>
</g>
<g font-size="11.5" fill="#262626" text-anchor="middle"><text x="198.2" y="295.6">Time(s)</text><text x="536.4" y="295.6">Time(s)</text></g>
<text transform="translate(18.5,70.3) rotate(-90)" font-size="12" fill="#262626" text-anchor="middle">P<tspan font-size="9" dy="5.3">g</tspan><tspan dy="-5.3"> (W)</tspan></text>
<text transform="translate(359.1,72.3) rotate(-90)" font-size="12" fill="#262626" text-anchor="middle">P<tspan font-size="9" dy="5.3">g</tspan><tspan dy="-5.3"> (W)</tspan></text>
<text transform="translate(18.5,217.0) rotate(-90)" font-size="12" fill="#262626" text-anchor="middle">Q<tspan font-size="9" dy="5.3">g</tspan><tspan dy="-5.3"> (Var)</tspan></text>
<text transform="translate(359.1,217.0) rotate(-90)" font-size="12" fill="#262626" text-anchor="middle">Q<tspan font-size="9" dy="5.3">g</tspan><tspan dy="-5.3"> (Var)</tspan></text>
<g font-size="16.4" fill="#000">
<text x="0.4" y="332.2" textLength="643" lengthAdjust="spacing">Fig. 20: comparison of average and instantaneous powers during frequent step changes of reactive</text>
<text x="6.5" y="349.9" textLength="679" lengthAdjust="spacing">power for two-level SVM (left column) and MMC (right column). (a) Active power, (b) reactive power</text>
</g>
</svg></body></html>
